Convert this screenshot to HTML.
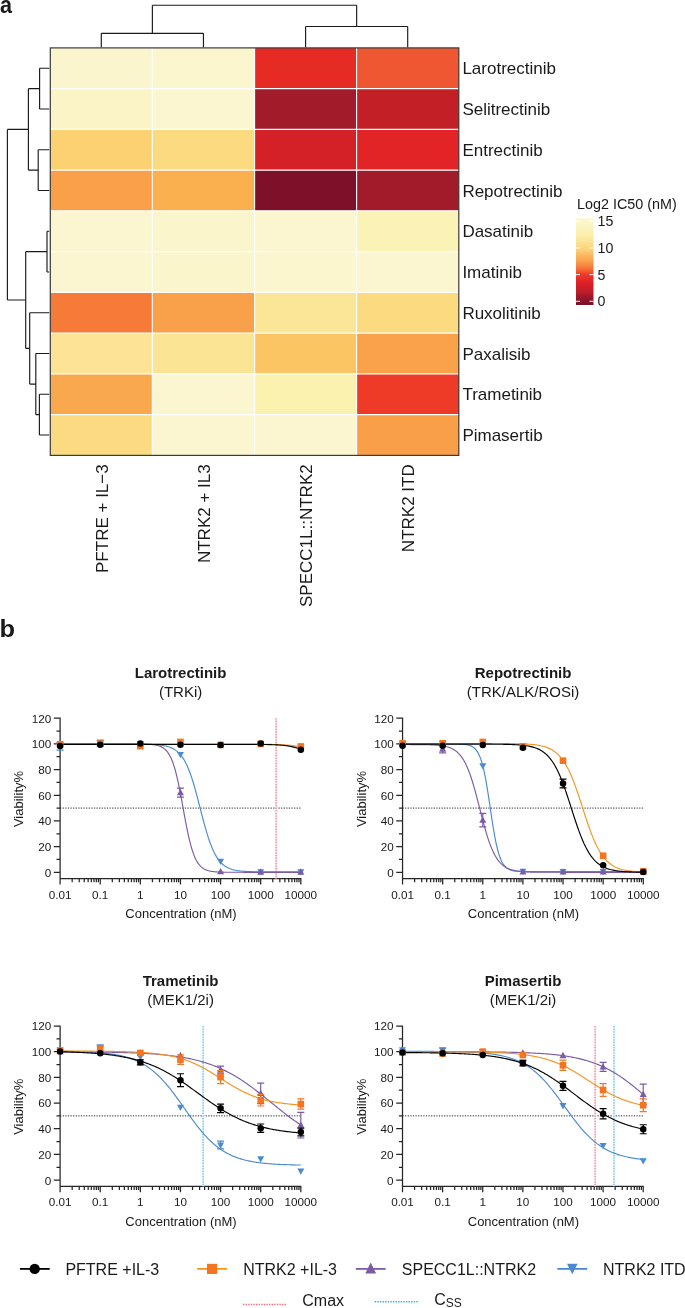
<!DOCTYPE html>
<html><head><meta charset="utf-8"><style>
html,body{margin:0;padding:0;background:#fff;}
body{width:685px;height:1308px;overflow:hidden;}
svg{display:block;font-family:"Liberation Sans", sans-serif;will-change:transform;}
text{fill:#1a1a1a;}
</style></head><body>
<svg width="685" height="1308" viewBox="0 0 685 1308">
<rect x="50.3" y="47.9" width="102" height="40.75" fill="#FBF5CE"/>
<rect x="152.3" y="47.9" width="102.3" height="40.75" fill="#FBF6CD"/>
<rect x="254.6" y="47.9" width="102" height="40.75" fill="#E62A24"/>
<rect x="356.6" y="47.9" width="102.2" height="40.75" fill="#EF5733"/>
<rect x="50.3" y="88.65" width="102" height="40.75" fill="#FAF4C6"/>
<rect x="152.3" y="88.65" width="102.3" height="40.75" fill="#FBF6D0"/>
<rect x="254.6" y="88.65" width="102" height="40.75" fill="#A11B2A"/>
<rect x="356.6" y="88.65" width="102.2" height="40.75" fill="#C21F27"/>
<rect x="50.3" y="129.4" width="102" height="40.75" fill="#FCD172"/>
<rect x="152.3" y="129.4" width="102.3" height="40.75" fill="#FCDA80"/>
<rect x="254.6" y="129.4" width="102" height="40.75" fill="#D42027"/>
<rect x="356.6" y="129.4" width="102.2" height="40.75" fill="#E22426"/>
<rect x="50.3" y="170.15" width="102" height="40.75" fill="#F9A049"/>
<rect x="152.3" y="170.15" width="102.3" height="40.75" fill="#FBB050"/>
<rect x="254.6" y="170.15" width="102" height="40.75" fill="#7E1129"/>
<rect x="356.6" y="170.15" width="102.2" height="40.75" fill="#A11B2A"/>
<rect x="50.3" y="210.9" width="102" height="40.75" fill="#FBF6D0"/>
<rect x="152.3" y="210.9" width="102.3" height="40.75" fill="#FBF5CC"/>
<rect x="254.6" y="210.9" width="102" height="40.75" fill="#FBF6CF"/>
<rect x="356.6" y="210.9" width="102.2" height="40.75" fill="#FBF3B5"/>
<rect x="50.3" y="251.65" width="102" height="40.75" fill="#FBF6D0"/>
<rect x="152.3" y="251.65" width="102.3" height="40.75" fill="#FBF5CC"/>
<rect x="254.6" y="251.65" width="102" height="40.75" fill="#FBF6CE"/>
<rect x="356.6" y="251.65" width="102.2" height="40.75" fill="#FBF6CF"/>
<rect x="50.3" y="292.4" width="102" height="40.75" fill="#F67B39"/>
<rect x="152.3" y="292.4" width="102.3" height="40.75" fill="#F9A04A"/>
<rect x="254.6" y="292.4" width="102" height="40.75" fill="#FBE597"/>
<rect x="356.6" y="292.4" width="102.2" height="40.75" fill="#FCDA80"/>
<rect x="50.3" y="333.15" width="102" height="40.75" fill="#FCE395"/>
<rect x="152.3" y="333.15" width="102.3" height="40.75" fill="#FBE494"/>
<rect x="254.6" y="333.15" width="102" height="40.75" fill="#FCC563"/>
<rect x="356.6" y="333.15" width="102.2" height="40.75" fill="#F9A24A"/>
<rect x="50.3" y="373.9" width="102" height="40.75" fill="#FAA84D"/>
<rect x="152.3" y="373.9" width="102.3" height="40.75" fill="#FBF6D0"/>
<rect x="254.6" y="373.9" width="102" height="40.75" fill="#FCF2AF"/>
<rect x="356.6" y="373.9" width="102.2" height="40.75" fill="#EE3B27"/>
<rect x="50.3" y="414.65" width="102" height="40.75" fill="#FCDA81"/>
<rect x="152.3" y="414.65" width="102.3" height="40.75" fill="#FBF6D0"/>
<rect x="254.6" y="414.65" width="102" height="40.75" fill="#FBF6CF"/>
<rect x="356.6" y="414.65" width="102.2" height="40.75" fill="#F99F48"/>
<line x1="152.3" y1="47.9" x2="152.3" y2="455.4" stroke="#fff" stroke-width="1.1"/>
<line x1="254.6" y1="47.9" x2="254.6" y2="455.4" stroke="#fff" stroke-width="1.1"/>
<line x1="356.6" y1="47.9" x2="356.6" y2="455.4" stroke="#fff" stroke-width="1.1"/>
<line x1="50.3" y1="88.65" x2="458.8" y2="88.65" stroke="#fff" stroke-width="1.1"/>
<line x1="50.3" y1="129.4" x2="458.8" y2="129.4" stroke="#fff" stroke-width="1.1"/>
<line x1="50.3" y1="170.15" x2="458.8" y2="170.15" stroke="#fff" stroke-width="1.1"/>
<line x1="50.3" y1="210.9" x2="458.8" y2="210.9" stroke="#fff" stroke-width="1.1"/>
<line x1="50.3" y1="251.65" x2="458.8" y2="251.65" stroke="#fff" stroke-width="1.1"/>
<line x1="50.3" y1="292.4" x2="458.8" y2="292.4" stroke="#fff" stroke-width="1.1"/>
<line x1="50.3" y1="333.15" x2="458.8" y2="333.15" stroke="#fff" stroke-width="1.1"/>
<line x1="50.3" y1="373.9" x2="458.8" y2="373.9" stroke="#fff" stroke-width="1.1"/>
<line x1="50.3" y1="414.65" x2="458.8" y2="414.65" stroke="#fff" stroke-width="1.1"/>
<rect x="50.3" y="47.9" width="408.5" height="407.5" fill="none" stroke="#3a3a3a" stroke-width="1.2"/>
<path d="M101.3 47.2L101.3 33.3M101.3 33.3L203.45 33.3M203.45 33.3L203.45 47.2M305.6 47.2L305.6 26.5M305.6 26.5L407.7 26.5M407.7 26.5L407.7 47.2M152.38 33.3L152.38 5.2M152.38 5.2L356.65 5.2M356.65 5.2L356.65 26.5M49.3 68.28L39.6 68.28M39.6 68.28L39.6 109.03M39.6 109.03L49.3 109.03M49.3 149.78L38.2 149.78M38.2 149.78L38.2 190.53M38.2 190.53L49.3 190.53M39.6 88.65L28.4 88.65M28.4 88.65L28.4 170.15M28.4 170.15L38.2 170.15M49.3 231.28L47 231.28M47 231.28L47 272.02M47 272.02L49.3 272.02M49.3 394.27L39.4 394.27M39.4 394.27L39.4 435.02M39.4 435.02L49.3 435.02M49.3 353.52L35.8 353.52M35.8 353.52L35.8 414.65M35.8 414.65L39.4 414.65M49.3 312.77L29.7 312.77M29.7 312.77L29.7 384.09M29.7 384.09L35.8 384.09M47 251.65L25.7 251.65M25.7 251.65L25.7 348.43M25.7 348.43L29.7 348.43M28.4 129.4L7.4 129.4M7.4 129.4L7.4 300.04M7.4 300.04L25.7 300.04" fill="none" stroke="#1a1a1a" stroke-width="1.15"/>
<text x="462.4" y="74.38" font-size="17">Larotrectinib</text>
<text x="462.4" y="115.12" font-size="17">Selitrectinib</text>
<text x="462.4" y="155.88" font-size="17">Entrectinib</text>
<text x="462.4" y="196.62" font-size="17">Repotrectinib</text>
<text x="462.4" y="237.38" font-size="17">Dasatinib</text>
<text x="462.4" y="278.12" font-size="17">Imatinib</text>
<text x="462.4" y="318.88" font-size="17">Ruxolitinib</text>
<text x="462.4" y="359.62" font-size="17">Paxalisib</text>
<text x="462.4" y="400.38" font-size="17">Trametinib</text>
<text x="462.4" y="441.12" font-size="17">Pimasertib</text>
<text transform="translate(107.9 464.3) rotate(-90)" text-anchor="end" font-size="17">PFTRE + IL−3</text>
<text transform="translate(210.05 464.3) rotate(-90)" text-anchor="end" font-size="17">NTRK2 + IL3</text>
<text transform="translate(312.2 464.3) rotate(-90)" text-anchor="end" font-size="17">SPECC1L::NTRK2</text>
<text transform="translate(414.3 464.3) rotate(-90)" text-anchor="end" font-size="17">NTRK2 ITD</text>
<text transform="translate(0 12.6) scale(0.9 1)" font-size="24" font-weight="bold">a</text>
<text transform="translate(-0.6 636.8) scale(1.06 1)" font-size="24" font-weight="bold">b</text>
<text x="577.1" y="209.3" font-size="14.35">Log2 IC50 (nM)</text>
<defs><linearGradient id="cbg" x1="0" y1="217.8" x2="0" y2="305" gradientUnits="userSpaceOnUse">
<stop offset="0" stop-color="#FCF9D8"/>
<stop offset="0.04" stop-color="#FBF6CF"/>
<stop offset="0.19" stop-color="#FCF0AE"/>
<stop offset="0.35" stop-color="#FDD57D"/>
<stop offset="0.5" stop-color="#FA9E4A"/>
<stop offset="0.58" stop-color="#F57538"/>
<stop offset="0.65" stop-color="#EE3B2B"/>
<stop offset="0.74" stop-color="#E02027"/>
<stop offset="0.84" stop-color="#C01E2A"/>
<stop offset="0.96" stop-color="#84122A"/>
<stop offset="1" stop-color="#7A1029"/>
</linearGradient></defs>
<rect x="576" y="217.8" width="17.5" height="87.2" fill="url(#cbg)"/>
<line x1="576" y1="221.3" x2="580" y2="221.3" stroke="#fff" stroke-width="1"/>
<line x1="589.5" y1="221.3" x2="593.5" y2="221.3" stroke="#fff" stroke-width="1"/>
<text x="597.6" y="226.3" font-size="14.2">15</text>
<line x1="576" y1="247.97" x2="580" y2="247.97" stroke="#fff" stroke-width="1"/>
<line x1="589.5" y1="247.97" x2="593.5" y2="247.97" stroke="#fff" stroke-width="1"/>
<text x="597.6" y="252.97" font-size="14.2">10</text>
<line x1="576" y1="274.63" x2="580" y2="274.63" stroke="#fff" stroke-width="1"/>
<line x1="589.5" y1="274.63" x2="593.5" y2="274.63" stroke="#fff" stroke-width="1"/>
<text x="597.6" y="279.63" font-size="14.2">5</text>
<line x1="576" y1="301.3" x2="580" y2="301.3" stroke="#fff" stroke-width="1"/>
<line x1="589.5" y1="301.3" x2="593.5" y2="301.3" stroke="#fff" stroke-width="1"/>
<text x="597.6" y="306.3" font-size="14.2">0</text>
<text x="180.6" y="678.4" font-size="15" font-weight="bold" text-anchor="middle">Larotrectinib</text>
<text x="180.6" y="697.1" font-size="15" text-anchor="middle">(TRKi)</text>
<path d="M60.1 717.6L60.1 884.5M60.1 878.5L301.42 878.5M53.8 872.3L60.1 872.3M53.8 846.62L60.1 846.62M53.8 820.93L60.1 820.93M53.8 795.25L60.1 795.25M53.8 769.56L60.1 769.56M53.8 743.88L60.1 743.88M53.8 718.2L60.1 718.2M56.5 859.46L60.1 859.46M56.5 833.77L60.1 833.77M56.5 808.09L60.1 808.09M56.5 782.41L60.1 782.41M56.5 756.72L60.1 756.72M56.5 731.04L60.1 731.04M60.1 878.5L60.1 884.5M72.18 878.5L72.18 882.3M79.24 878.5L79.24 882.3M84.25 878.5L84.25 882.3M88.14 878.5L88.14 882.3M91.32 878.5L91.32 882.3M94.01 878.5L94.01 882.3M96.33 878.5L96.33 882.3M98.38 878.5L98.38 882.3M100.22 878.5L100.22 884.5M112.3 878.5L112.3 882.3M119.36 878.5L119.36 882.3M124.37 878.5L124.37 882.3M128.26 878.5L128.26 882.3M131.44 878.5L131.44 882.3M134.13 878.5L134.13 882.3M136.45 878.5L136.45 882.3M138.5 878.5L138.5 882.3M140.34 878.5L140.34 884.5M152.42 878.5L152.42 882.3M159.48 878.5L159.48 882.3M164.49 878.5L164.49 882.3M168.38 878.5L168.38 882.3M171.56 878.5L171.56 882.3M174.25 878.5L174.25 882.3M176.57 878.5L176.57 882.3M178.62 878.5L178.62 882.3M180.46 878.5L180.46 884.5M192.54 878.5L192.54 882.3M199.6 878.5L199.6 882.3M204.61 878.5L204.61 882.3M208.5 878.5L208.5 882.3M211.68 878.5L211.68 882.3M214.37 878.5L214.37 882.3M216.69 878.5L216.69 882.3M218.74 878.5L218.74 882.3M220.58 878.5L220.58 884.5M232.66 878.5L232.66 882.3M239.72 878.5L239.72 882.3M244.73 878.5L244.73 882.3M248.62 878.5L248.62 882.3M251.8 878.5L251.8 882.3M254.49 878.5L254.49 882.3M256.81 878.5L256.81 882.3M258.86 878.5L258.86 882.3M260.7 878.5L260.7 884.5M272.78 878.5L272.78 882.3M279.84 878.5L279.84 882.3M284.85 878.5L284.85 882.3M288.74 878.5L288.74 882.3M291.92 878.5L291.92 882.3M294.61 878.5L294.61 882.3M296.93 878.5L296.93 882.3M298.98 878.5L298.98 882.3M300.82 878.5L300.82 884.5" fill="none" stroke="#262626" stroke-width="1.25"/>
<text x="51.2" y="876.7" font-size="11.7" text-anchor="end">0</text>
<text x="51.2" y="851.02" font-size="11.7" text-anchor="end">20</text>
<text x="51.2" y="825.33" font-size="11.7" text-anchor="end">40</text>
<text x="51.2" y="799.65" font-size="11.7" text-anchor="end">60</text>
<text x="51.2" y="773.96" font-size="11.7" text-anchor="end">80</text>
<text x="51.2" y="748.28" font-size="11.7" text-anchor="end">100</text>
<text x="51.2" y="722.6" font-size="11.7" text-anchor="end">120</text>
<text x="60.1" y="898.6" font-size="11.7" text-anchor="middle">0.01</text>
<text x="100.22" y="898.6" font-size="11.7" text-anchor="middle">0.1</text>
<text x="140.34" y="898.6" font-size="11.7" text-anchor="middle">1</text>
<text x="180.46" y="898.6" font-size="11.7" text-anchor="middle">10</text>
<text x="220.58" y="898.6" font-size="11.7" text-anchor="middle">100</text>
<text x="260.7" y="898.6" font-size="11.7" text-anchor="middle">1000</text>
<text x="300.82" y="898.6" font-size="11.7" text-anchor="middle">10000</text>
<text x="181" y="918" font-size="13" text-anchor="middle">Concentration (nM)</text>
<text transform="translate(23.1 799) rotate(-90)" font-size="13" text-anchor="middle">Viability%</text>
<line x1="60.1" y1="808.09" x2="300.82" y2="808.09" stroke="#222" stroke-width="1" stroke-dasharray="1.2 1.4"/>
<line x1="276.13" y1="718.2" x2="276.13" y2="878.5" stroke="#FDE4E7" stroke-width="1.8"/>
<line x1="276.13" y1="718.2" x2="276.13" y2="878.5" stroke="#F59AA3" stroke-width="1.7" stroke-dasharray="1.3 1.33"/>
<path d="M60.1 744.14L61.1 744.14L62.11 744.14L63.11 744.14L64.11 744.14L65.11 744.14L66.12 744.14L67.12 744.14L68.12 744.14L69.13 744.14L70.13 744.14L71.13 744.14L72.14 744.14L73.14 744.14L74.14 744.14L75.14 744.14L76.15 744.14L77.15 744.14L78.15 744.14L79.16 744.14L80.16 744.14L81.16 744.14L82.17 744.14L83.17 744.14L84.17 744.14L85.17 744.14L86.18 744.14L87.18 744.14L88.18 744.14L89.19 744.14L90.19 744.14L91.19 744.14L92.2 744.14L93.2 744.14L94.2 744.14L95.2 744.14L96.21 744.14L97.21 744.14L98.21 744.14L99.22 744.14L100.22 744.14L101.22 744.14L102.23 744.14L103.23 744.14L104.23 744.14L105.23 744.14L106.24 744.14L107.24 744.14L108.24 744.14L109.25 744.14L110.25 744.14L111.25 744.14L112.26 744.14L113.26 744.14L114.26 744.14L115.27 744.14L116.27 744.14L117.27 744.14L118.27 744.14L119.28 744.14L120.28 744.14L121.28 744.15L122.29 744.15L123.29 744.15L124.29 744.15L125.29 744.15L126.3 744.15L127.3 744.15L128.3 744.16L129.31 744.16L130.31 744.16L131.31 744.17L132.32 744.17L133.32 744.17L134.32 744.18L135.32 744.18L136.33 744.19L137.33 744.2L138.33 744.2L139.34 744.21L140.34 744.22L141.34 744.23L142.35 744.25L143.35 744.26L144.35 744.28L145.35 744.29L146.36 744.32L147.36 744.34L148.36 744.36L149.37 744.39L150.37 744.43L151.37 744.47L152.38 744.51L153.38 744.56L154.38 744.61L155.38 744.67L156.39 744.74L157.39 744.82L158.39 744.91L159.4 745.01L160.4 745.12L161.4 745.25L162.41 745.4L163.41 745.56L164.41 745.74L165.41 745.95L166.42 746.18L167.42 746.44L168.42 746.74L169.43 747.07L170.43 747.44L171.43 747.86L172.44 748.33L173.44 748.85L174.44 749.44L175.44 750.1L176.45 750.84L177.45 751.66L178.45 752.58L179.46 753.6L180.46 754.73L181.46 755.99L182.47 757.37L183.47 758.9L184.47 760.58L185.47 762.42L186.48 764.42L187.48 766.6L188.48 768.96L189.49 771.51L190.49 774.24L191.49 777.15L192.5 780.24L193.5 783.5L194.5 786.91L195.5 790.47L196.51 794.15L197.51 797.93L198.51 801.78L199.52 805.68L200.52 809.59L201.52 813.5L202.53 817.36L203.53 821.15L204.53 824.85L205.53 828.44L206.54 831.88L207.54 835.17L208.54 838.3L209.55 841.25L210.55 844.01L211.55 846.59L212.56 848.99L213.56 851.21L214.56 853.25L215.56 855.12L216.57 856.83L217.57 858.38L218.57 859.8L219.58 861.08L220.58 862.23L221.58 863.27L222.59 864.21L223.59 865.05L224.59 865.81L225.59 866.48L226.6 867.09L227.6 867.62L228.6 868.1L229.61 868.53L230.61 868.91L231.61 869.25L232.62 869.55L233.62 869.82L234.62 870.06L235.62 870.27L236.63 870.46L237.63 870.63L238.63 870.77L239.64 870.9L240.64 871.02L241.64 871.12L242.65 871.21L243.65 871.29L244.65 871.36L245.65 871.43L246.66 871.48L247.66 871.53L248.66 871.58L249.67 871.62L250.67 871.65L251.67 871.68L252.68 871.71L253.68 871.73L254.68 871.75L255.68 871.77L256.69 871.79L257.69 871.8L258.69 871.82L259.7 871.83L260.7 871.84L261.7 871.85L262.71 871.85L263.71 871.86L264.71 871.87L265.71 871.87L266.72 871.88L267.72 871.88L268.72 871.89L269.73 871.89L270.73 871.89L271.73 871.89L272.74 871.9L273.74 871.9L274.74 871.9L275.75 871.9L276.75 871.9L277.75 871.91L278.75 871.91L279.76 871.91L280.76 871.91L281.76 871.91L282.77 871.91L283.77 871.91L284.77 871.91L285.77 871.91L286.78 871.91L287.78 871.91L288.78 871.91L289.79 871.91L290.79 871.91L291.79 871.91L292.8 871.91L293.8 871.91L294.8 871.91L295.81 871.91L296.81 871.91L297.81 871.91L298.81 871.91L299.82 871.91L300.82 871.91" fill="none" stroke="#4A8BD0" stroke-width="1.15"/>
<path d="M60.1 743.88L61.1 743.88L62.11 743.88L63.11 743.88L64.11 743.88L65.11 743.88L66.12 743.88L67.12 743.88L68.12 743.88L69.13 743.88L70.13 743.88L71.13 743.88L72.14 743.88L73.14 743.88L74.14 743.88L75.14 743.88L76.15 743.88L77.15 743.88L78.15 743.88L79.16 743.88L80.16 743.88L81.16 743.88L82.17 743.88L83.17 743.88L84.17 743.88L85.17 743.88L86.18 743.88L87.18 743.88L88.18 743.88L89.19 743.88L90.19 743.88L91.19 743.88L92.2 743.88L93.2 743.88L94.2 743.88L95.2 743.88L96.21 743.88L97.21 743.88L98.21 743.88L99.22 743.88L100.22 743.88L101.22 743.88L102.23 743.88L103.23 743.88L104.23 743.88L105.23 743.88L106.24 743.88L107.24 743.88L108.24 743.88L109.25 743.88L110.25 743.88L111.25 743.88L112.26 743.88L113.26 743.88L114.26 743.88L115.27 743.88L116.27 743.88L117.27 743.88L118.27 743.88L119.28 743.88L120.28 743.88L121.28 743.88L122.29 743.88L123.29 743.88L124.29 743.89L125.29 743.89L126.3 743.89L127.3 743.89L128.3 743.89L129.31 743.89L130.31 743.89L131.31 743.9L132.32 743.9L133.32 743.9L134.32 743.91L135.32 743.91L136.33 743.92L137.33 743.93L138.33 743.94L139.34 743.95L140.34 743.96L141.34 743.98L142.35 743.99L143.35 744.02L144.35 744.04L145.35 744.07L146.36 744.11L147.36 744.15L148.36 744.2L149.37 744.26L150.37 744.34L151.37 744.42L152.38 744.52L153.38 744.64L154.38 744.79L155.38 744.96L156.39 745.16L157.39 745.4L158.39 745.68L159.4 746.01L160.4 746.4L161.4 746.87L162.41 747.42L163.41 748.06L164.41 748.82L165.41 749.71L166.42 750.75L167.42 751.96L168.42 753.37L169.43 755L170.43 756.89L171.43 759.05L172.44 761.52L173.44 764.31L174.44 767.46L175.44 770.97L176.45 774.84L177.45 779.08L178.45 783.66L179.46 788.55L180.46 793.7L181.46 799.06L182.47 804.55L183.47 810.09L184.47 815.6L185.47 821L186.48 826.21L187.48 831.18L188.48 835.85L189.49 840.19L190.49 844.17L191.49 847.78L192.5 851.02L193.5 853.91L194.5 856.47L195.5 858.71L196.51 860.67L197.51 862.38L198.51 863.85L199.52 865.11L200.52 866.2L201.52 867.13L202.53 867.92L203.53 868.59L204.53 869.17L205.53 869.65L206.54 870.07L207.54 870.42L208.54 870.71L209.55 870.96L210.55 871.17L211.55 871.35L212.56 871.5L213.56 871.62L214.56 871.73L215.56 871.82L216.57 871.9L217.57 871.96L218.57 872.01L219.58 872.06L220.58 872.1L221.58 872.13L222.59 872.16L223.59 872.18L224.59 872.2L225.59 872.21L226.6 872.23L227.6 872.24L228.6 872.25L229.61 872.26L230.61 872.26L231.61 872.27L232.62 872.27L233.62 872.28L234.62 872.28L235.62 872.28L236.63 872.29L237.63 872.29L238.63 872.29L239.64 872.29L240.64 872.29L241.64 872.29L242.65 872.3L243.65 872.3L244.65 872.3L245.65 872.3L246.66 872.3L247.66 872.3L248.66 872.3L249.67 872.3L250.67 872.3L251.67 872.3L252.68 872.3L253.68 872.3L254.68 872.3L255.68 872.3L256.69 872.3L257.69 872.3L258.69 872.3L259.7 872.3L260.7 872.3L261.7 872.3L262.71 872.3L263.71 872.3L264.71 872.3L265.71 872.3L266.72 872.3L267.72 872.3L268.72 872.3L269.73 872.3L270.73 872.3L271.73 872.3L272.74 872.3L273.74 872.3L274.74 872.3L275.75 872.3L276.75 872.3L277.75 872.3L278.75 872.3L279.76 872.3L280.76 872.3L281.76 872.3L282.77 872.3L283.77 872.3L284.77 872.3L285.77 872.3L286.78 872.3L287.78 872.3L288.78 872.3L289.79 872.3L290.79 872.3L291.79 872.3L292.8 872.3L293.8 872.3L294.8 872.3L295.81 872.3L296.81 872.3L297.81 872.3L298.81 872.3L299.82 872.3L300.82 872.3" fill="none" stroke="#7B5BA6" stroke-width="1.15"/>
<path d="M60.1 744.27L61.1 744.27L62.11 744.27L63.11 744.27L64.11 744.27L65.11 744.27L66.12 744.27L67.12 744.27L68.12 744.27L69.13 744.27L70.13 744.27L71.13 744.27L72.14 744.27L73.14 744.27L74.14 744.27L75.14 744.27L76.15 744.27L77.15 744.27L78.15 744.27L79.16 744.27L80.16 744.27L81.16 744.27L82.17 744.27L83.17 744.27L84.17 744.27L85.17 744.27L86.18 744.27L87.18 744.27L88.18 744.27L89.19 744.27L90.19 744.27L91.19 744.27L92.2 744.27L93.2 744.27L94.2 744.27L95.2 744.27L96.21 744.27L97.21 744.27L98.21 744.27L99.22 744.27L100.22 744.27L101.22 744.27L102.23 744.27L103.23 744.27L104.23 744.27L105.23 744.27L106.24 744.27L107.24 744.27L108.24 744.27L109.25 744.27L110.25 744.27L111.25 744.27L112.26 744.27L113.26 744.27L114.26 744.27L115.27 744.27L116.27 744.27L117.27 744.27L118.27 744.27L119.28 744.27L120.28 744.27L121.28 744.27L122.29 744.27L123.29 744.27L124.29 744.27L125.29 744.27L126.3 744.27L127.3 744.27L128.3 744.27L129.31 744.27L130.31 744.27L131.31 744.27L132.32 744.27L133.32 744.27L134.32 744.27L135.32 744.27L136.33 744.27L137.33 744.27L138.33 744.27L139.34 744.27L140.34 744.27L141.34 744.27L142.35 744.27L143.35 744.27L144.35 744.27L145.35 744.27L146.36 744.27L147.36 744.27L148.36 744.27L149.37 744.27L150.37 744.27L151.37 744.27L152.38 744.27L153.38 744.27L154.38 744.27L155.38 744.27L156.39 744.27L157.39 744.27L158.39 744.27L159.4 744.27L160.4 744.27L161.4 744.27L162.41 744.27L163.41 744.27L164.41 744.27L165.41 744.27L166.42 744.27L167.42 744.27L168.42 744.27L169.43 744.27L170.43 744.27L171.43 744.27L172.44 744.27L173.44 744.27L174.44 744.27L175.44 744.27L176.45 744.27L177.45 744.27L178.45 744.27L179.46 744.27L180.46 744.27L181.46 744.27L182.47 744.27L183.47 744.27L184.47 744.27L185.47 744.27L186.48 744.27L187.48 744.27L188.48 744.27L189.49 744.27L190.49 744.27L191.49 744.27L192.5 744.27L193.5 744.27L194.5 744.27L195.5 744.27L196.51 744.27L197.51 744.27L198.51 744.27L199.52 744.27L200.52 744.27L201.52 744.27L202.53 744.27L203.53 744.27L204.53 744.27L205.53 744.27L206.54 744.27L207.54 744.27L208.54 744.27L209.55 744.27L210.55 744.27L211.55 744.27L212.56 744.27L213.56 744.27L214.56 744.27L215.56 744.27L216.57 744.27L217.57 744.27L218.57 744.27L219.58 744.27L220.58 744.27L221.58 744.27L222.59 744.27L223.59 744.27L224.59 744.27L225.59 744.27L226.6 744.27L227.6 744.27L228.6 744.27L229.61 744.27L230.61 744.27L231.61 744.27L232.62 744.27L233.62 744.27L234.62 744.27L235.62 744.27L236.63 744.27L237.63 744.27L238.63 744.27L239.64 744.27L240.64 744.27L241.64 744.27L242.65 744.27L243.65 744.27L244.65 744.27L245.65 744.27L246.66 744.27L247.66 744.28L248.66 744.28L249.67 744.28L250.67 744.28L251.67 744.28L252.68 744.28L253.68 744.29L254.68 744.29L255.68 744.29L256.69 744.3L257.69 744.3L258.69 744.3L259.7 744.31L260.7 744.31L261.7 744.32L262.71 744.32L263.71 744.33L264.71 744.34L265.71 744.35L266.72 744.36L267.72 744.37L268.72 744.38L269.73 744.4L270.73 744.41L271.73 744.43L272.74 744.45L273.74 744.47L274.74 744.49L275.75 744.52L276.75 744.55L277.75 744.58L278.75 744.61L279.76 744.65L280.76 744.7L281.76 744.74L282.77 744.8L283.77 744.85L284.77 744.92L285.77 744.98L286.78 745.06L287.78 745.13L288.78 745.22L289.79 745.31L290.79 745.41L291.79 745.51L292.8 745.62L293.8 745.73L294.8 745.85L295.81 745.98L296.81 746.1L297.81 746.23L298.81 746.37L299.82 746.5L300.82 746.64" fill="none" stroke="#F7941D" stroke-width="1.15"/>
<path d="M60.1 744.39L61.1 744.39L62.11 744.39L63.11 744.39L64.11 744.39L65.11 744.39L66.12 744.39L67.12 744.39L68.12 744.39L69.13 744.39L70.13 744.39L71.13 744.39L72.14 744.39L73.14 744.39L74.14 744.39L75.14 744.39L76.15 744.39L77.15 744.39L78.15 744.39L79.16 744.39L80.16 744.39L81.16 744.39L82.17 744.39L83.17 744.39L84.17 744.39L85.17 744.39L86.18 744.39L87.18 744.39L88.18 744.39L89.19 744.39L90.19 744.39L91.19 744.39L92.2 744.39L93.2 744.39L94.2 744.39L95.2 744.39L96.21 744.39L97.21 744.39L98.21 744.39L99.22 744.39L100.22 744.39L101.22 744.39L102.23 744.39L103.23 744.39L104.23 744.39L105.23 744.39L106.24 744.39L107.24 744.39L108.24 744.39L109.25 744.39L110.25 744.39L111.25 744.39L112.26 744.39L113.26 744.39L114.26 744.39L115.27 744.39L116.27 744.39L117.27 744.39L118.27 744.39L119.28 744.39L120.28 744.39L121.28 744.39L122.29 744.39L123.29 744.39L124.29 744.39L125.29 744.39L126.3 744.39L127.3 744.39L128.3 744.39L129.31 744.39L130.31 744.39L131.31 744.39L132.32 744.39L133.32 744.39L134.32 744.39L135.32 744.39L136.33 744.39L137.33 744.39L138.33 744.39L139.34 744.39L140.34 744.39L141.34 744.39L142.35 744.39L143.35 744.39L144.35 744.39L145.35 744.39L146.36 744.39L147.36 744.39L148.36 744.39L149.37 744.39L150.37 744.39L151.37 744.39L152.38 744.39L153.38 744.39L154.38 744.39L155.38 744.39L156.39 744.39L157.39 744.39L158.39 744.39L159.4 744.39L160.4 744.39L161.4 744.39L162.41 744.39L163.41 744.39L164.41 744.39L165.41 744.39L166.42 744.39L167.42 744.39L168.42 744.39L169.43 744.39L170.43 744.39L171.43 744.39L172.44 744.39L173.44 744.39L174.44 744.39L175.44 744.39L176.45 744.39L177.45 744.39L178.45 744.39L179.46 744.39L180.46 744.39L181.46 744.39L182.47 744.39L183.47 744.39L184.47 744.39L185.47 744.39L186.48 744.39L187.48 744.39L188.48 744.39L189.49 744.39L190.49 744.39L191.49 744.39L192.5 744.39L193.5 744.39L194.5 744.39L195.5 744.39L196.51 744.39L197.51 744.39L198.51 744.39L199.52 744.39L200.52 744.39L201.52 744.39L202.53 744.39L203.53 744.39L204.53 744.39L205.53 744.39L206.54 744.39L207.54 744.39L208.54 744.39L209.55 744.39L210.55 744.39L211.55 744.39L212.56 744.39L213.56 744.39L214.56 744.39L215.56 744.39L216.57 744.39L217.57 744.39L218.57 744.39L219.58 744.39L220.58 744.39L221.58 744.39L222.59 744.39L223.59 744.39L224.59 744.39L225.59 744.4L226.6 744.4L227.6 744.4L228.6 744.4L229.61 744.4L230.61 744.4L231.61 744.4L232.62 744.4L233.62 744.4L234.62 744.4L235.62 744.4L236.63 744.4L237.63 744.4L238.63 744.4L239.64 744.4L240.64 744.4L241.64 744.4L242.65 744.4L243.65 744.4L244.65 744.41L245.65 744.41L246.66 744.41L247.66 744.41L248.66 744.41L249.67 744.42L250.67 744.42L251.67 744.42L252.68 744.42L253.68 744.43L254.68 744.43L255.68 744.44L256.69 744.44L257.69 744.45L258.69 744.46L259.7 744.46L260.7 744.47L261.7 744.48L262.71 744.49L263.71 744.5L264.71 744.52L265.71 744.53L266.72 744.55L267.72 744.57L268.72 744.59L269.73 744.61L270.73 744.63L271.73 744.66L272.74 744.7L273.74 744.73L274.74 744.77L275.75 744.82L276.75 744.87L277.75 744.92L278.75 744.98L279.76 745.05L280.76 745.13L281.76 745.21L282.77 745.3L283.77 745.4L284.77 745.51L285.77 745.64L286.78 745.77L287.78 745.92L288.78 746.08L289.79 746.26L290.79 746.44L291.79 746.65L292.8 746.87L293.8 747.1L294.8 747.36L295.81 747.62L296.81 747.9L297.81 748.2L298.81 748.51L299.82 748.83L300.82 749.16" fill="none" stroke="#000000" stroke-width="1.15"/>
<path d="M60.1 742.34L60.1 750.04M56.6 742.34L63.6 742.34M56.6 750.04L63.6 750.04M100.22 740.03L100.22 745.16M96.72 740.03L103.72 740.03M96.72 745.16L103.72 745.16" fill="none" stroke="#4A8BD0" stroke-width="1.2"/>
<path d="M60.1 749.87L63.6 743.57L56.6 743.57Z" fill="#4A8BD0"/>
<path d="M100.22 746.27L103.72 739.97L96.72 739.97Z" fill="#4A8BD0"/>
<path d="M140.34 747.55L143.84 741.25L136.84 741.25Z" fill="#4A8BD0"/>
<path d="M180.46 758.21L183.96 751.91L176.96 751.91Z" fill="#4A8BD0"/>
<path d="M220.58 864.93L224.08 858.63L217.08 858.63Z" fill="#4A8BD0"/>
<path d="M260.7 875.59L264.2 869.29L257.2 869.29Z" fill="#4A8BD0"/>
<path d="M300.82 875.59L304.32 869.29L297.32 869.29Z" fill="#4A8BD0"/>
<path d="M180.46 788.18L180.46 797.17M176.96 788.18L183.96 788.18M176.96 797.17L183.96 797.17" fill="none" stroke="#7B5BA6" stroke-width="1.2"/>
<path d="M60.1 740.21L63.6 746.5L56.6 746.5Z" fill="#7B5BA6"/>
<path d="M100.22 740.21L103.72 746.5L96.72 746.5Z" fill="#7B5BA6"/>
<path d="M140.34 740.21L143.84 746.5L136.84 746.5Z" fill="#7B5BA6"/>
<path d="M180.46 789L183.96 795.3L176.96 795.3Z" fill="#7B5BA6"/>
<path d="M220.58 867.98L224.08 874.28L217.08 874.28Z" fill="#7B5BA6"/>
<path d="M260.7 868.37L264.2 874.67L257.2 874.67Z" fill="#7B5BA6"/>
<path d="M300.82 868.37L304.32 874.67L297.32 874.67Z" fill="#7B5BA6"/>
<rect x="56.8" y="740.97" width="6.6" height="6.6" fill="#F37421"/>
<rect x="96.92" y="740.19" width="6.6" height="6.6" fill="#F37421"/>
<rect x="137.04" y="742.89" width="6.6" height="6.6" fill="#F37421"/>
<rect x="177.16" y="738.65" width="6.6" height="6.6" fill="#F37421"/>
<rect x="217.28" y="741.61" width="6.6" height="6.6" fill="#F37421"/>
<rect x="257.4" y="740.58" width="6.6" height="6.6" fill="#F37421"/>
<rect x="297.52" y="743.15" width="6.6" height="6.6" fill="#F37421"/>
<circle cx="60.1" cy="745.93" r="3.25" fill="#000000"/>
<circle cx="100.22" cy="744.65" r="3.25" fill="#000000"/>
<circle cx="140.34" cy="743.62" r="3.25" fill="#000000"/>
<circle cx="180.46" cy="744.65" r="3.25" fill="#000000"/>
<circle cx="220.58" cy="744.91" r="3.25" fill="#000000"/>
<circle cx="260.7" cy="743.62" r="3.25" fill="#000000"/>
<circle cx="300.82" cy="749.66" r="3.25" fill="#000000"/>
<text x="523.05" y="678.4" font-size="15" font-weight="bold" text-anchor="middle">Repotrectinib</text>
<text x="523.05" y="697.1" font-size="15" text-anchor="middle">(TRK/ALK/ROSi)</text>
<path d="M402.55 717.6L402.55 884.5M402.55 878.5L643.87 878.5M396.25 872.3L402.55 872.3M396.25 846.62L402.55 846.62M396.25 820.93L402.55 820.93M396.25 795.25L402.55 795.25M396.25 769.56L402.55 769.56M396.25 743.88L402.55 743.88M396.25 718.2L402.55 718.2M398.95 859.46L402.55 859.46M398.95 833.77L402.55 833.77M398.95 808.09L402.55 808.09M398.95 782.41L402.55 782.41M398.95 756.72L402.55 756.72M398.95 731.04L402.55 731.04M402.55 878.5L402.55 884.5M414.63 878.5L414.63 882.3M421.69 878.5L421.69 882.3M426.7 878.5L426.7 882.3M430.59 878.5L430.59 882.3M433.77 878.5L433.77 882.3M436.46 878.5L436.46 882.3M438.78 878.5L438.78 882.3M440.83 878.5L440.83 882.3M442.67 878.5L442.67 884.5M454.75 878.5L454.75 882.3M461.81 878.5L461.81 882.3M466.82 878.5L466.82 882.3M470.71 878.5L470.71 882.3M473.89 878.5L473.89 882.3M476.58 878.5L476.58 882.3M478.9 878.5L478.9 882.3M480.95 878.5L480.95 882.3M482.79 878.5L482.79 884.5M494.87 878.5L494.87 882.3M501.93 878.5L501.93 882.3M506.94 878.5L506.94 882.3M510.83 878.5L510.83 882.3M514.01 878.5L514.01 882.3M516.7 878.5L516.7 882.3M519.02 878.5L519.02 882.3M521.07 878.5L521.07 882.3M522.91 878.5L522.91 884.5M534.99 878.5L534.99 882.3M542.05 878.5L542.05 882.3M547.06 878.5L547.06 882.3M550.95 878.5L550.95 882.3M554.13 878.5L554.13 882.3M556.82 878.5L556.82 882.3M559.14 878.5L559.14 882.3M561.19 878.5L561.19 882.3M563.03 878.5L563.03 884.5M575.11 878.5L575.11 882.3M582.17 878.5L582.17 882.3M587.18 878.5L587.18 882.3M591.07 878.5L591.07 882.3M594.25 878.5L594.25 882.3M596.94 878.5L596.94 882.3M599.26 878.5L599.26 882.3M601.31 878.5L601.31 882.3M603.15 878.5L603.15 884.5M615.23 878.5L615.23 882.3M622.29 878.5L622.29 882.3M627.3 878.5L627.3 882.3M631.19 878.5L631.19 882.3M634.37 878.5L634.37 882.3M637.06 878.5L637.06 882.3M639.38 878.5L639.38 882.3M641.43 878.5L641.43 882.3M643.27 878.5L643.27 884.5" fill="none" stroke="#262626" stroke-width="1.25"/>
<text x="393.65" y="876.7" font-size="11.7" text-anchor="end">0</text>
<text x="393.65" y="851.02" font-size="11.7" text-anchor="end">20</text>
<text x="393.65" y="825.33" font-size="11.7" text-anchor="end">40</text>
<text x="393.65" y="799.65" font-size="11.7" text-anchor="end">60</text>
<text x="393.65" y="773.96" font-size="11.7" text-anchor="end">80</text>
<text x="393.65" y="748.28" font-size="11.7" text-anchor="end">100</text>
<text x="393.65" y="722.6" font-size="11.7" text-anchor="end">120</text>
<text x="402.55" y="898.6" font-size="11.7" text-anchor="middle">0.01</text>
<text x="442.67" y="898.6" font-size="11.7" text-anchor="middle">0.1</text>
<text x="482.79" y="898.6" font-size="11.7" text-anchor="middle">1</text>
<text x="522.91" y="898.6" font-size="11.7" text-anchor="middle">10</text>
<text x="563.03" y="898.6" font-size="11.7" text-anchor="middle">100</text>
<text x="603.15" y="898.6" font-size="11.7" text-anchor="middle">1000</text>
<text x="643.27" y="898.6" font-size="11.7" text-anchor="middle">10000</text>
<text x="523.45" y="918" font-size="13" text-anchor="middle">Concentration (nM)</text>
<text transform="translate(365.55 799) rotate(-90)" font-size="13" text-anchor="middle">Viability%</text>
<line x1="402.55" y1="808.09" x2="643.27" y2="808.09" stroke="#222" stroke-width="1" stroke-dasharray="1.2 1.4"/>
<path d="M402.55 743.88L403.55 743.88L404.56 743.88L405.56 743.88L406.56 743.88L407.56 743.88L408.57 743.88L409.57 743.88L410.57 743.88L411.58 743.88L412.58 743.88L413.58 743.88L414.59 743.88L415.59 743.88L416.59 743.88L417.6 743.88L418.6 743.88L419.6 743.88L420.6 743.88L421.61 743.88L422.61 743.88L423.61 743.88L424.62 743.88L425.62 743.88L426.62 743.88L427.62 743.88L428.63 743.88L429.63 743.88L430.63 743.88L431.64 743.88L432.64 743.88L433.64 743.88L434.65 743.88L435.65 743.88L436.65 743.88L437.66 743.88L438.66 743.88L439.66 743.88L440.66 743.88L441.67 743.88L442.67 743.89L443.67 743.89L444.68 743.89L445.68 743.89L446.68 743.89L447.69 743.9L448.69 743.9L449.69 743.9L450.69 743.91L451.7 743.92L452.7 743.92L453.7 743.93L454.71 743.95L455.71 743.96L456.71 743.98L457.72 744.01L458.72 744.04L459.72 744.08L460.72 744.12L461.73 744.18L462.73 744.25L463.73 744.34L464.74 744.45L465.74 744.58L466.74 744.75L467.75 744.95L468.75 745.21L469.75 745.52L470.75 745.9L471.76 746.37L472.76 746.94L473.76 747.65L474.77 748.51L475.77 749.56L476.77 750.84L477.77 752.38L478.78 754.24L479.78 756.45L480.78 759.08L481.79 762.18L482.79 765.77L483.79 769.91L484.8 774.61L485.8 779.85L486.8 785.6L487.81 791.79L488.81 798.31L489.81 805.05L490.81 811.85L491.82 818.55L492.82 825.02L493.82 831.13L494.83 836.78L495.83 841.92L496.83 846.5L497.84 850.53L498.84 854.02L499.84 857.02L500.84 859.56L501.85 861.7L502.85 863.49L503.85 864.97L504.86 866.2L505.86 867.21L506.86 868.04L507.87 868.72L508.87 869.27L509.87 869.72L510.87 870.09L511.88 870.39L512.88 870.63L513.88 870.82L514.89 870.98L515.89 871.11L516.89 871.22L517.89 871.3L518.9 871.37L519.9 871.42L520.9 871.47L521.91 871.51L522.91 871.53L523.91 871.56L524.92 871.58L525.92 871.59L526.92 871.61L527.92 871.62L528.93 871.62L529.93 871.63L530.93 871.64L531.94 871.64L532.94 871.64L533.94 871.65L534.95 871.65L535.95 871.65L536.95 871.65L537.96 871.65L538.96 871.65L539.96 871.65L540.96 871.66L541.97 871.66L542.97 871.66L543.97 871.66L544.98 871.66L545.98 871.66L546.98 871.66L547.99 871.66L548.99 871.66L549.99 871.66L550.99 871.66L552 871.66L553 871.66L554 871.66L555.01 871.66L556.01 871.66L557.01 871.66L558.01 871.66L559.02 871.66L560.02 871.66L561.02 871.66L562.03 871.66L563.03 871.66L564.03 871.66L565.04 871.66L566.04 871.66L567.04 871.66L568.04 871.66L569.05 871.66L570.05 871.66L571.05 871.66L572.06 871.66L573.06 871.66L574.06 871.66L575.07 871.66L576.07 871.66L577.07 871.66L578.08 871.66L579.08 871.66L580.08 871.66L581.08 871.66L582.09 871.66L583.09 871.66L584.09 871.66L585.1 871.66L586.1 871.66L587.1 871.66L588.11 871.66L589.11 871.66L590.11 871.66L591.11 871.66L592.12 871.66L593.12 871.66L594.12 871.66L595.13 871.66L596.13 871.66L597.13 871.66L598.13 871.66L599.14 871.66L600.14 871.66L601.14 871.66L602.15 871.66L603.15 871.66L604.15 871.66L605.16 871.66L606.16 871.66L607.16 871.66L608.16 871.66L609.17 871.66L610.17 871.66L611.17 871.66L612.18 871.66L613.18 871.66L614.18 871.66L615.19 871.66L616.19 871.66L617.19 871.66L618.19 871.66L619.2 871.66L620.2 871.66L621.2 871.66L622.21 871.66L623.21 871.66L624.21 871.66L625.22 871.66L626.22 871.66L627.22 871.66L628.23 871.66L629.23 871.66L630.23 871.66L631.23 871.66L632.24 871.66L633.24 871.66L634.24 871.66L635.25 871.66L636.25 871.66L637.25 871.66L638.25 871.66L639.26 871.66L640.26 871.66L641.26 871.66L642.27 871.66L643.27 871.66" fill="none" stroke="#4A8BD0" stroke-width="1.15"/>
<path d="M402.55 744.53L403.55 744.53L404.56 744.53L405.56 744.54L406.56 744.54L407.56 744.54L408.57 744.54L409.57 744.55L410.57 744.55L411.58 744.55L412.58 744.56L413.58 744.56L414.59 744.57L415.59 744.57L416.59 744.58L417.6 744.58L418.6 744.59L419.6 744.6L420.6 744.61L421.61 744.62L422.61 744.64L423.61 744.65L424.62 744.67L425.62 744.69L426.62 744.71L427.62 744.73L428.63 744.76L429.63 744.79L430.63 744.83L431.64 744.87L432.64 744.92L433.64 744.97L434.65 745.03L435.65 745.09L436.65 745.16L437.66 745.25L438.66 745.34L439.66 745.45L440.66 745.57L441.67 745.71L442.67 745.86L443.67 746.03L444.68 746.23L445.68 746.45L446.68 746.7L447.69 746.98L448.69 747.29L449.69 747.65L450.69 748.05L451.7 748.49L452.7 749L453.7 749.56L454.71 750.19L455.71 750.9L456.71 751.69L457.72 752.57L458.72 753.55L459.72 754.64L460.72 755.84L461.73 757.18L462.73 758.66L463.73 760.28L464.74 762.06L465.74 764.01L466.74 766.14L467.75 768.44L468.75 770.93L469.75 773.6L470.75 776.46L471.76 779.5L472.76 782.72L473.76 786.1L474.77 789.62L475.77 793.28L476.77 797.04L477.77 800.89L478.78 804.79L479.78 808.73L480.78 812.65L481.79 816.55L482.79 820.39L483.79 824.14L484.8 827.77L485.8 831.28L486.8 834.63L487.81 837.82L488.81 840.83L489.81 843.66L490.81 846.3L491.82 848.76L492.82 851.04L493.82 853.13L494.83 855.05L495.83 856.81L496.83 858.41L497.84 859.86L498.84 861.18L499.84 862.37L500.84 863.44L501.85 864.4L502.85 865.27L503.85 866.04L504.86 866.74L505.86 867.36L506.86 867.91L507.87 868.4L508.87 868.84L509.87 869.23L510.87 869.58L511.88 869.89L512.88 870.17L513.88 870.41L514.89 870.63L515.89 870.82L516.89 870.99L517.89 871.14L518.9 871.27L519.9 871.39L520.9 871.49L521.91 871.59L522.91 871.67L523.91 871.74L524.92 871.81L525.92 871.86L526.92 871.91L527.92 871.96L528.93 872L529.93 872.03L530.93 872.06L531.94 872.09L532.94 872.12L533.94 872.14L534.95 872.16L535.95 872.17L536.95 872.19L537.96 872.2L538.96 872.21L539.96 872.22L540.96 872.23L541.97 872.24L542.97 872.25L543.97 872.25L544.98 872.26L545.98 872.26L546.98 872.27L547.99 872.27L548.99 872.27L549.99 872.28L550.99 872.28L552 872.28L553 872.28L554 872.29L555.01 872.29L556.01 872.29L557.01 872.29L558.01 872.29L559.02 872.29L560.02 872.29L561.02 872.29L562.03 872.29L563.03 872.3L564.03 872.3L565.04 872.3L566.04 872.3L567.04 872.3L568.04 872.3L569.05 872.3L570.05 872.3L571.05 872.3L572.06 872.3L573.06 872.3L574.06 872.3L575.07 872.3L576.07 872.3L577.07 872.3L578.08 872.3L579.08 872.3L580.08 872.3L581.08 872.3L582.09 872.3L583.09 872.3L584.09 872.3L585.1 872.3L586.1 872.3L587.1 872.3L588.11 872.3L589.11 872.3L590.11 872.3L591.11 872.3L592.12 872.3L593.12 872.3L594.12 872.3L595.13 872.3L596.13 872.3L597.13 872.3L598.13 872.3L599.14 872.3L600.14 872.3L601.14 872.3L602.15 872.3L603.15 872.3L604.15 872.3L605.16 872.3L606.16 872.3L607.16 872.3L608.16 872.3L609.17 872.3L610.17 872.3L611.17 872.3L612.18 872.3L613.18 872.3L614.18 872.3L615.19 872.3L616.19 872.3L617.19 872.3L618.19 872.3L619.2 872.3L620.2 872.3L621.2 872.3L622.21 872.3L623.21 872.3L624.21 872.3L625.22 872.3L626.22 872.3L627.22 872.3L628.23 872.3L629.23 872.3L630.23 872.3L631.23 872.3L632.24 872.3L633.24 872.3L634.24 872.3L635.25 872.3L636.25 872.3L637.25 872.3L638.25 872.3L639.26 872.3L640.26 872.3L641.26 872.3L642.27 872.3L643.27 872.3" fill="none" stroke="#7B5BA6" stroke-width="1.15"/>
<path d="M402.55 743.49L403.55 743.49L404.56 743.49L405.56 743.49L406.56 743.49L407.56 743.49L408.57 743.49L409.57 743.49L410.57 743.49L411.58 743.49L412.58 743.49L413.58 743.49L414.59 743.49L415.59 743.49L416.59 743.49L417.6 743.49L418.6 743.49L419.6 743.49L420.6 743.49L421.61 743.49L422.61 743.49L423.61 743.49L424.62 743.49L425.62 743.49L426.62 743.49L427.62 743.49L428.63 743.49L429.63 743.49L430.63 743.49L431.64 743.49L432.64 743.49L433.64 743.49L434.65 743.49L435.65 743.49L436.65 743.49L437.66 743.49L438.66 743.49L439.66 743.49L440.66 743.49L441.67 743.49L442.67 743.49L443.67 743.49L444.68 743.49L445.68 743.49L446.68 743.5L447.69 743.5L448.69 743.5L449.69 743.5L450.69 743.5L451.7 743.5L452.7 743.5L453.7 743.5L454.71 743.5L455.71 743.5L456.71 743.5L457.72 743.5L458.72 743.5L459.72 743.5L460.72 743.5L461.73 743.5L462.73 743.5L463.73 743.5L464.74 743.5L465.74 743.5L466.74 743.5L467.75 743.5L468.75 743.5L469.75 743.5L470.75 743.5L471.76 743.5L472.76 743.5L473.76 743.5L474.77 743.5L475.77 743.5L476.77 743.5L477.77 743.5L478.78 743.5L479.78 743.5L480.78 743.5L481.79 743.5L482.79 743.5L483.79 743.5L484.8 743.51L485.8 743.51L486.8 743.51L487.81 743.51L488.81 743.51L489.81 743.51L490.81 743.51L491.82 743.51L492.82 743.52L493.82 743.52L494.83 743.52L495.83 743.52L496.83 743.53L497.84 743.53L498.84 743.53L499.84 743.54L500.84 743.54L501.85 743.55L502.85 743.55L503.85 743.56L504.86 743.57L505.86 743.57L506.86 743.58L507.87 743.59L508.87 743.6L509.87 743.61L510.87 743.62L511.88 743.63L512.88 743.65L513.88 743.66L514.89 743.68L515.89 743.7L516.89 743.72L517.89 743.74L518.9 743.77L519.9 743.8L520.9 743.83L521.91 743.86L522.91 743.9L523.91 743.94L524.92 743.99L525.92 744.03L526.92 744.09L527.92 744.15L528.93 744.22L529.93 744.29L530.93 744.37L531.94 744.46L532.94 744.55L533.94 744.66L534.95 744.78L535.95 744.91L536.95 745.05L537.96 745.2L538.96 745.37L539.96 745.56L540.96 745.77L541.97 745.99L542.97 746.24L543.97 746.52L544.98 746.81L545.98 747.14L546.98 747.5L547.99 747.89L548.99 748.32L549.99 748.79L550.99 749.31L552 749.87L553 750.48L554 751.15L555.01 751.87L556.01 752.66L557.01 753.52L558.01 754.45L559.02 755.46L560.02 756.56L561.02 757.74L562.03 759.01L563.03 760.38L564.03 761.85L565.04 763.42L566.04 765.1L567.04 766.9L568.04 768.81L569.05 770.83L570.05 772.98L571.05 775.23L572.06 777.6L573.06 780.08L574.06 782.67L575.07 785.35L576.07 788.13L577.07 790.99L578.08 793.92L579.08 796.92L580.08 799.97L581.08 803.05L582.09 806.15L583.09 809.27L584.09 812.37L585.1 815.46L586.1 818.51L587.1 821.52L588.11 824.46L589.11 827.33L590.11 830.12L591.11 832.81L592.12 835.41L593.12 837.9L594.12 840.29L595.13 842.55L596.13 844.71L597.13 846.75L598.13 848.67L599.14 850.48L600.14 852.18L601.14 853.77L602.15 855.25L603.15 856.63L604.15 857.91L605.16 859.1L606.16 860.2L607.16 861.22L608.16 862.16L609.17 863.03L610.17 863.83L611.17 864.56L612.18 865.24L613.18 865.86L614.18 866.42L615.19 866.94L616.19 867.42L617.19 867.85L618.19 868.25L619.2 868.61L620.2 868.94L621.2 869.24L622.21 869.52L623.21 869.77L624.21 870L625.22 870.21L626.22 870.4L627.22 870.57L628.23 870.73L629.23 870.87L630.23 871L631.23 871.12L632.24 871.23L633.24 871.33L634.24 871.42L635.25 871.5L636.25 871.57L637.25 871.64L638.25 871.7L639.26 871.75L640.26 871.8L641.26 871.85L642.27 871.89L643.27 871.93" fill="none" stroke="#F7941D" stroke-width="1.15"/>
<path d="M402.55 744.14L403.55 744.14L404.56 744.14L405.56 744.14L406.56 744.14L407.56 744.14L408.57 744.14L409.57 744.14L410.57 744.14L411.58 744.14L412.58 744.14L413.58 744.14L414.59 744.14L415.59 744.14L416.59 744.14L417.6 744.14L418.6 744.14L419.6 744.14L420.6 744.14L421.61 744.14L422.61 744.14L423.61 744.14L424.62 744.14L425.62 744.14L426.62 744.14L427.62 744.14L428.63 744.14L429.63 744.14L430.63 744.14L431.64 744.14L432.64 744.14L433.64 744.14L434.65 744.14L435.65 744.14L436.65 744.14L437.66 744.14L438.66 744.14L439.66 744.14L440.66 744.14L441.67 744.14L442.67 744.14L443.67 744.14L444.68 744.14L445.68 744.14L446.68 744.14L447.69 744.14L448.69 744.14L449.69 744.14L450.69 744.14L451.7 744.14L452.7 744.14L453.7 744.14L454.71 744.14L455.71 744.14L456.71 744.14L457.72 744.14L458.72 744.14L459.72 744.14L460.72 744.14L461.73 744.14L462.73 744.14L463.73 744.14L464.74 744.14L465.74 744.14L466.74 744.14L467.75 744.14L468.75 744.14L469.75 744.14L470.75 744.14L471.76 744.14L472.76 744.15L473.76 744.15L474.77 744.15L475.77 744.15L476.77 744.15L477.77 744.15L478.78 744.15L479.78 744.15L480.78 744.16L481.79 744.16L482.79 744.16L483.79 744.16L484.8 744.16L485.8 744.17L486.8 744.17L487.81 744.17L488.81 744.18L489.81 744.18L490.81 744.19L491.82 744.19L492.82 744.2L493.82 744.2L494.83 744.21L495.83 744.22L496.83 744.23L497.84 744.24L498.84 744.25L499.84 744.26L500.84 744.27L501.85 744.28L502.85 744.3L503.85 744.31L504.86 744.33L505.86 744.35L506.86 744.37L507.87 744.4L508.87 744.43L509.87 744.45L510.87 744.49L511.88 744.52L512.88 744.56L513.88 744.61L514.89 744.65L515.89 744.71L516.89 744.77L517.89 744.83L518.9 744.9L519.9 744.98L520.9 745.07L521.91 745.16L522.91 745.26L523.91 745.38L524.92 745.51L525.92 745.64L526.92 745.8L527.92 745.97L528.93 746.15L529.93 746.35L530.93 746.58L531.94 746.82L532.94 747.09L533.94 747.39L534.95 747.71L535.95 748.07L536.95 748.46L537.96 748.89L538.96 749.36L539.96 749.87L540.96 750.43L541.97 751.04L542.97 751.71L543.97 752.44L544.98 753.23L545.98 754.1L546.98 755.03L547.99 756.05L548.99 757.15L549.99 758.34L550.99 759.62L552 761.01L553 762.49L554 764.08L555.01 765.79L556.01 767.61L557.01 769.54L558.01 771.59L559.02 773.76L560.02 776.05L561.02 778.45L562.03 780.97L563.03 783.59L564.03 786.31L565.04 789.12L566.04 792.02L567.04 794.99L568.04 798.02L569.05 801.1L570.05 804.21L571.05 807.34L572.06 810.48L573.06 813.6L574.06 816.7L575.07 819.76L576.07 822.76L577.07 825.7L578.08 828.56L579.08 831.34L580.08 834.01L581.08 836.59L582.09 839.05L583.09 841.41L584.09 843.64L585.1 845.76L586.1 847.76L587.1 849.64L588.11 851.41L589.11 853.07L590.11 854.61L591.11 856.05L592.12 857.39L593.12 858.63L594.12 859.78L595.13 860.84L596.13 861.83L597.13 862.73L598.13 863.56L599.14 864.32L600.14 865.03L601.14 865.67L602.15 866.26L603.15 866.8L604.15 867.29L605.16 867.74L606.16 868.15L607.16 868.53L608.16 868.87L609.17 869.18L610.17 869.47L611.17 869.72L612.18 869.96L613.18 870.17L614.18 870.37L615.19 870.55L616.19 870.71L617.19 870.86L618.19 870.99L619.2 871.11L620.2 871.22L621.2 871.32L622.21 871.41L623.21 871.49L624.21 871.57L625.22 871.64L626.22 871.7L627.22 871.75L628.23 871.8L629.23 871.85L630.23 871.89L631.23 871.93L632.24 871.96L633.24 872L634.24 872.02L635.25 872.05L636.25 872.07L637.25 872.09L638.25 872.11L639.26 872.13L640.26 872.15L641.26 872.16L642.27 872.17L643.27 872.19" fill="none" stroke="#000000" stroke-width="1.15"/>
<path d="M402.55 747.55L406.05 741.25L399.05 741.25Z" fill="#4A8BD0"/>
<path d="M442.67 747.55L446.17 741.25L439.17 741.25Z" fill="#4A8BD0"/>
<path d="M482.79 769.51L486.29 763.21L479.29 763.21Z" fill="#4A8BD0"/>
<path d="M522.91 874.95L526.41 868.65L519.41 868.65Z" fill="#4A8BD0"/>
<path d="M563.03 875.33L566.53 869.03L559.53 869.03Z" fill="#4A8BD0"/>
<path d="M603.15 875.33L606.65 869.03L599.65 869.03Z" fill="#4A8BD0"/>
<path d="M643.27 875.33L646.77 869.03L639.77 869.03Z" fill="#4A8BD0"/>
<path d="M442.67 745.16L442.67 752.87M439.17 745.16L446.17 745.16M439.17 752.87L446.17 752.87M482.79 813.36L482.79 826.97M479.29 813.36L486.29 813.36M479.29 826.97L486.29 826.97" fill="none" stroke="#7B5BA6" stroke-width="1.2"/>
<path d="M402.55 740.21L406.05 746.5L399.05 746.5Z" fill="#7B5BA6"/>
<path d="M442.67 745.34L446.17 751.64L439.17 751.64Z" fill="#7B5BA6"/>
<path d="M482.79 816.49L486.29 822.79L479.29 822.79Z" fill="#7B5BA6"/>
<path d="M522.91 868.24L526.41 874.54L519.41 874.54Z" fill="#7B5BA6"/>
<path d="M563.03 868.24L566.53 874.54L559.53 874.54Z" fill="#7B5BA6"/>
<path d="M603.15 868.24L606.65 874.54L599.65 874.54Z" fill="#7B5BA6"/>
<path d="M643.27 868.24L646.77 874.54L639.77 874.54Z" fill="#7B5BA6"/>
<rect x="399.25" y="739.94" width="6.6" height="6.6" fill="#F37421"/>
<rect x="439.37" y="739.94" width="6.6" height="6.6" fill="#F37421"/>
<rect x="479.49" y="738.65" width="6.6" height="6.6" fill="#F37421"/>
<rect x="519.61" y="743.15" width="6.6" height="6.6" fill="#F37421"/>
<rect x="559.73" y="757.4" width="6.6" height="6.6" fill="#F37421"/>
<rect x="599.85" y="852.43" width="6.6" height="6.6" fill="#F37421"/>
<rect x="639.97" y="867.97" width="6.6" height="6.6" fill="#F37421"/>
<path d="M563.03 779.07L563.03 787.8M559.53 779.07L566.53 779.07M559.53 787.8L566.53 787.8" fill="none" stroke="#000000" stroke-width="1.2"/>
<circle cx="402.55" cy="745.81" r="3.25" fill="#000000"/>
<circle cx="442.67" cy="745.81" r="3.25" fill="#000000"/>
<circle cx="482.79" cy="744.91" r="3.25" fill="#000000"/>
<circle cx="522.91" cy="747.73" r="3.25" fill="#000000"/>
<circle cx="563.03" cy="783.43" r="3.25" fill="#000000"/>
<circle cx="603.15" cy="865.24" r="3.25" fill="#000000"/>
<circle cx="643.27" cy="872.04" r="3.25" fill="#000000"/>
<text x="180.6" y="986.2" font-size="15" font-weight="bold" text-anchor="middle">Trametinib</text>
<text x="180.6" y="1004.9" font-size="15" text-anchor="middle">(MEK1/2i)</text>
<path d="M60.1 1025.4L60.1 1192.3M60.1 1186.3L301.42 1186.3M53.8 1180.1L60.1 1180.1M53.8 1154.42L60.1 1154.42M53.8 1128.73L60.1 1128.73M53.8 1103.05L60.1 1103.05M53.8 1077.36L60.1 1077.36M53.8 1051.68L60.1 1051.68M53.8 1026L60.1 1026M56.5 1167.26L60.1 1167.26M56.5 1141.57L60.1 1141.57M56.5 1115.89L60.1 1115.89M56.5 1090.21L60.1 1090.21M56.5 1064.52L60.1 1064.52M56.5 1038.84L60.1 1038.84M60.1 1186.3L60.1 1192.3M72.18 1186.3L72.18 1190.1M79.24 1186.3L79.24 1190.1M84.25 1186.3L84.25 1190.1M88.14 1186.3L88.14 1190.1M91.32 1186.3L91.32 1190.1M94.01 1186.3L94.01 1190.1M96.33 1186.3L96.33 1190.1M98.38 1186.3L98.38 1190.1M100.22 1186.3L100.22 1192.3M112.3 1186.3L112.3 1190.1M119.36 1186.3L119.36 1190.1M124.37 1186.3L124.37 1190.1M128.26 1186.3L128.26 1190.1M131.44 1186.3L131.44 1190.1M134.13 1186.3L134.13 1190.1M136.45 1186.3L136.45 1190.1M138.5 1186.3L138.5 1190.1M140.34 1186.3L140.34 1192.3M152.42 1186.3L152.42 1190.1M159.48 1186.3L159.48 1190.1M164.49 1186.3L164.49 1190.1M168.38 1186.3L168.38 1190.1M171.56 1186.3L171.56 1190.1M174.25 1186.3L174.25 1190.1M176.57 1186.3L176.57 1190.1M178.62 1186.3L178.62 1190.1M180.46 1186.3L180.46 1192.3M192.54 1186.3L192.54 1190.1M199.6 1186.3L199.6 1190.1M204.61 1186.3L204.61 1190.1M208.5 1186.3L208.5 1190.1M211.68 1186.3L211.68 1190.1M214.37 1186.3L214.37 1190.1M216.69 1186.3L216.69 1190.1M218.74 1186.3L218.74 1190.1M220.58 1186.3L220.58 1192.3M232.66 1186.3L232.66 1190.1M239.72 1186.3L239.72 1190.1M244.73 1186.3L244.73 1190.1M248.62 1186.3L248.62 1190.1M251.8 1186.3L251.8 1190.1M254.49 1186.3L254.49 1190.1M256.81 1186.3L256.81 1190.1M258.86 1186.3L258.86 1190.1M260.7 1186.3L260.7 1192.3M272.78 1186.3L272.78 1190.1M279.84 1186.3L279.84 1190.1M284.85 1186.3L284.85 1190.1M288.74 1186.3L288.74 1190.1M291.92 1186.3L291.92 1190.1M294.61 1186.3L294.61 1190.1M296.93 1186.3L296.93 1190.1M298.98 1186.3L298.98 1190.1M300.82 1186.3L300.82 1192.3" fill="none" stroke="#262626" stroke-width="1.25"/>
<text x="51.2" y="1184.5" font-size="11.7" text-anchor="end">0</text>
<text x="51.2" y="1158.82" font-size="11.7" text-anchor="end">20</text>
<text x="51.2" y="1133.13" font-size="11.7" text-anchor="end">40</text>
<text x="51.2" y="1107.45" font-size="11.7" text-anchor="end">60</text>
<text x="51.2" y="1081.76" font-size="11.7" text-anchor="end">80</text>
<text x="51.2" y="1056.08" font-size="11.7" text-anchor="end">100</text>
<text x="51.2" y="1030.4" font-size="11.7" text-anchor="end">120</text>
<text x="60.1" y="1206.4" font-size="11.7" text-anchor="middle">0.01</text>
<text x="100.22" y="1206.4" font-size="11.7" text-anchor="middle">0.1</text>
<text x="140.34" y="1206.4" font-size="11.7" text-anchor="middle">1</text>
<text x="180.46" y="1206.4" font-size="11.7" text-anchor="middle">10</text>
<text x="220.58" y="1206.4" font-size="11.7" text-anchor="middle">100</text>
<text x="260.7" y="1206.4" font-size="11.7" text-anchor="middle">1000</text>
<text x="300.82" y="1206.4" font-size="11.7" text-anchor="middle">10000</text>
<text x="181" y="1225.8" font-size="13" text-anchor="middle">Concentration (nM)</text>
<text transform="translate(23.1 1106.8) rotate(-90)" font-size="13" text-anchor="middle">Viability%</text>
<line x1="60.1" y1="1115.89" x2="300.82" y2="1115.89" stroke="#222" stroke-width="1" stroke-dasharray="1.2 1.4"/>
<line x1="203.15" y1="1026" x2="203.15" y2="1186.3" stroke="#DDF2FB" stroke-width="1.8"/>
<line x1="203.15" y1="1026" x2="203.15" y2="1186.3" stroke="#86D0F0" stroke-width="1.7" stroke-dasharray="1.3 1.33"/>
<path d="M60.1 1051.27L61.1 1051.29L62.11 1051.3L63.11 1051.31L64.11 1051.33L65.11 1051.34L66.12 1051.36L67.12 1051.37L68.12 1051.39L69.13 1051.41L70.13 1051.43L71.13 1051.45L72.14 1051.47L73.14 1051.49L74.14 1051.51L75.14 1051.53L76.15 1051.56L77.15 1051.59L78.15 1051.61L79.16 1051.64L80.16 1051.68L81.16 1051.71L82.17 1051.74L83.17 1051.78L84.17 1051.82L85.17 1051.85L86.18 1051.9L87.18 1051.94L88.18 1051.99L89.19 1052.03L90.19 1052.08L91.19 1052.14L92.2 1052.19L93.2 1052.25L94.2 1052.31L95.2 1052.38L96.21 1052.44L97.21 1052.52L98.21 1052.59L99.22 1052.67L100.22 1052.75L101.22 1052.84L102.23 1052.93L103.23 1053.02L104.23 1053.12L105.23 1053.23L106.24 1053.34L107.24 1053.45L108.24 1053.57L109.25 1053.7L110.25 1053.83L111.25 1053.97L112.26 1054.12L113.26 1054.27L114.26 1054.43L115.27 1054.6L116.27 1054.78L117.27 1054.96L118.27 1055.16L119.28 1055.36L120.28 1055.57L121.28 1055.8L122.29 1056.03L123.29 1056.27L124.29 1056.53L125.29 1056.79L126.3 1057.07L127.3 1057.37L128.3 1057.67L129.31 1057.99L130.31 1058.32L131.31 1058.67L132.32 1059.03L133.32 1059.41L134.32 1059.81L135.32 1060.22L136.33 1060.65L137.33 1061.1L138.33 1061.57L139.34 1062.06L140.34 1062.56L141.34 1063.09L142.35 1063.64L143.35 1064.21L144.35 1064.81L145.35 1065.42L146.36 1066.06L147.36 1066.73L148.36 1067.41L149.37 1068.13L150.37 1068.86L151.37 1069.63L152.38 1070.42L153.38 1071.24L154.38 1072.08L155.38 1072.95L156.39 1073.85L157.39 1074.78L158.39 1075.73L159.4 1076.71L160.4 1077.72L161.4 1078.75L162.41 1079.81L163.41 1080.9L164.41 1082.02L165.41 1083.16L166.42 1084.32L167.42 1085.51L168.42 1086.73L169.43 1087.96L170.43 1089.22L171.43 1090.5L172.44 1091.8L173.44 1093.12L174.44 1094.46L175.44 1095.81L176.45 1097.18L177.45 1098.56L178.45 1099.95L179.46 1101.36L180.46 1102.77L181.46 1104.18L182.47 1105.61L183.47 1107.03L184.47 1108.46L185.47 1109.89L186.48 1111.31L187.48 1112.73L188.48 1114.15L189.49 1115.56L190.49 1116.95L191.49 1118.34L192.5 1119.72L193.5 1121.08L194.5 1122.43L195.5 1123.76L196.51 1125.07L197.51 1126.37L198.51 1127.64L199.52 1128.89L200.52 1130.12L201.52 1131.33L202.53 1132.51L203.53 1133.67L204.53 1134.8L205.53 1135.9L206.54 1136.98L207.54 1138.04L208.54 1139.06L209.55 1140.06L210.55 1141.03L211.55 1141.97L212.56 1142.89L213.56 1143.78L214.56 1144.64L215.56 1145.47L216.57 1146.28L217.57 1147.06L218.57 1147.82L219.58 1148.55L220.58 1149.25L221.58 1149.93L222.59 1150.59L223.59 1151.22L224.59 1151.83L225.59 1152.41L226.6 1152.98L227.6 1153.52L228.6 1154.04L229.61 1154.54L230.61 1155.02L231.61 1155.48L232.62 1155.92L233.62 1156.35L234.62 1156.76L235.62 1157.15L236.63 1157.52L237.63 1157.88L238.63 1158.22L239.64 1158.55L240.64 1158.86L241.64 1159.16L242.65 1159.45L243.65 1159.73L244.65 1159.99L245.65 1160.24L246.66 1160.48L247.66 1160.71L248.66 1160.93L249.67 1161.14L250.67 1161.34L251.67 1161.53L252.68 1161.71L253.68 1161.88L254.68 1162.05L255.68 1162.21L256.69 1162.36L257.69 1162.5L258.69 1162.64L259.7 1162.77L260.7 1162.9L261.7 1163.01L262.71 1163.13L263.71 1163.24L264.71 1163.34L265.71 1163.44L266.72 1163.53L267.72 1163.62L268.72 1163.7L269.73 1163.79L270.73 1163.86L271.73 1163.94L272.74 1164.01L273.74 1164.07L274.74 1164.14L275.75 1164.2L276.75 1164.25L277.75 1164.31L278.75 1164.36L279.76 1164.41L280.76 1164.46L281.76 1164.5L282.77 1164.55L283.77 1164.59L284.77 1164.63L285.77 1164.66L286.78 1164.7L287.78 1164.73L288.78 1164.76L289.79 1164.79L290.79 1164.82L291.79 1164.85L292.8 1164.88L293.8 1164.9L294.8 1164.92L295.81 1164.95L296.81 1164.97L297.81 1164.99L298.81 1165.01L299.82 1165.03L300.82 1165.04" fill="none" stroke="#4A8BD0" stroke-width="1.15"/>
<path d="M60.1 1051.8L61.1 1051.8L62.11 1051.81L63.11 1051.81L64.11 1051.82L65.11 1051.82L66.12 1051.82L67.12 1051.83L68.12 1051.83L69.13 1051.84L70.13 1051.84L71.13 1051.85L72.14 1051.86L73.14 1051.86L74.14 1051.87L75.14 1051.87L76.15 1051.88L77.15 1051.89L78.15 1051.89L79.16 1051.9L80.16 1051.91L81.16 1051.91L82.17 1051.92L83.17 1051.93L84.17 1051.94L85.17 1051.95L86.18 1051.95L87.18 1051.96L88.18 1051.97L89.19 1051.98L90.19 1051.99L91.19 1052L92.2 1052.01L93.2 1052.02L94.2 1052.03L95.2 1052.05L96.21 1052.06L97.21 1052.07L98.21 1052.08L99.22 1052.1L100.22 1052.11L101.22 1052.12L102.23 1052.14L103.23 1052.15L104.23 1052.17L105.23 1052.18L106.24 1052.2L107.24 1052.22L108.24 1052.23L109.25 1052.25L110.25 1052.27L111.25 1052.29L112.26 1052.31L113.26 1052.33L114.26 1052.35L115.27 1052.37L116.27 1052.39L117.27 1052.42L118.27 1052.44L119.28 1052.47L120.28 1052.49L121.28 1052.52L122.29 1052.54L123.29 1052.57L124.29 1052.6L125.29 1052.63L126.3 1052.66L127.3 1052.69L128.3 1052.73L129.31 1052.76L130.31 1052.79L131.31 1052.83L132.32 1052.87L133.32 1052.9L134.32 1052.94L135.32 1052.98L136.33 1053.03L137.33 1053.07L138.33 1053.11L139.34 1053.16L140.34 1053.21L141.34 1053.26L142.35 1053.31L143.35 1053.36L144.35 1053.41L145.35 1053.47L146.36 1053.53L147.36 1053.59L148.36 1053.65L149.37 1053.71L150.37 1053.77L151.37 1053.84L152.38 1053.91L153.38 1053.98L154.38 1054.05L155.38 1054.13L156.39 1054.21L157.39 1054.29L158.39 1054.37L159.4 1054.45L160.4 1054.54L161.4 1054.63L162.41 1054.73L163.41 1054.82L164.41 1054.92L165.41 1055.02L166.42 1055.13L167.42 1055.24L168.42 1055.35L169.43 1055.46L170.43 1055.58L171.43 1055.71L172.44 1055.83L173.44 1055.96L174.44 1056.09L175.44 1056.23L176.45 1056.37L177.45 1056.52L178.45 1056.67L179.46 1056.82L180.46 1056.98L181.46 1057.14L182.47 1057.31L183.47 1057.49L184.47 1057.66L185.47 1057.85L186.48 1058.03L187.48 1058.23L188.48 1058.43L189.49 1058.63L190.49 1058.84L191.49 1059.06L192.5 1059.28L193.5 1059.51L194.5 1059.75L195.5 1059.99L196.51 1060.23L197.51 1060.49L198.51 1060.75L199.52 1061.02L200.52 1061.29L201.52 1061.58L202.53 1061.87L203.53 1062.16L204.53 1062.47L205.53 1062.78L206.54 1063.1L207.54 1063.43L208.54 1063.77L209.55 1064.12L210.55 1064.47L211.55 1064.83L212.56 1065.2L213.56 1065.58L214.56 1065.97L215.56 1066.37L216.57 1066.78L217.57 1067.2L218.57 1067.62L219.58 1068.06L220.58 1068.5L221.58 1068.96L222.59 1069.42L223.59 1069.9L224.59 1070.38L225.59 1070.88L226.6 1071.38L227.6 1071.9L228.6 1072.42L229.61 1072.95L230.61 1073.5L231.61 1074.05L232.62 1074.62L233.62 1075.19L234.62 1075.78L235.62 1076.37L236.63 1076.98L237.63 1077.59L238.63 1078.21L239.64 1078.85L240.64 1079.49L241.64 1080.14L242.65 1080.81L243.65 1081.48L244.65 1082.16L245.65 1082.85L246.66 1083.54L247.66 1084.25L248.66 1084.96L249.67 1085.69L250.67 1086.42L251.67 1087.15L252.68 1087.9L253.68 1088.65L254.68 1089.41L255.68 1090.17L256.69 1090.94L257.69 1091.72L258.69 1092.5L259.7 1093.28L260.7 1094.07L261.7 1094.87L262.71 1095.67L263.71 1096.47L264.71 1097.28L265.71 1098.09L266.72 1098.9L267.72 1099.71L268.72 1100.52L269.73 1101.34L270.73 1102.15L271.73 1102.97L272.74 1103.78L273.74 1104.6L274.74 1105.41L275.75 1106.23L276.75 1107.04L277.75 1107.85L278.75 1108.65L279.76 1109.45L280.76 1110.25L281.76 1111.05L282.77 1111.84L283.77 1112.63L284.77 1113.41L285.77 1114.18L286.78 1114.96L287.78 1115.72L288.78 1116.48L289.79 1117.23L290.79 1117.97L291.79 1118.71L292.8 1119.44L293.8 1120.17L294.8 1120.88L295.81 1121.59L296.81 1122.28L297.81 1122.97L298.81 1123.65L299.82 1124.33L300.82 1124.99" fill="none" stroke="#7B5BA6" stroke-width="1.15"/>
<path d="M60.1 1051.07L61.1 1051.07L62.11 1051.07L63.11 1051.08L64.11 1051.08L65.11 1051.08L66.12 1051.08L67.12 1051.08L68.12 1051.09L69.13 1051.09L70.13 1051.09L71.13 1051.09L72.14 1051.1L73.14 1051.1L74.14 1051.1L75.14 1051.1L76.15 1051.11L77.15 1051.11L78.15 1051.11L79.16 1051.12L80.16 1051.12L81.16 1051.12L82.17 1051.13L83.17 1051.13L84.17 1051.14L85.17 1051.14L86.18 1051.15L87.18 1051.15L88.18 1051.16L89.19 1051.16L90.19 1051.17L91.19 1051.18L92.2 1051.18L93.2 1051.19L94.2 1051.2L95.2 1051.2L96.21 1051.21L97.21 1051.22L98.21 1051.23L99.22 1051.24L100.22 1051.25L101.22 1051.26L102.23 1051.27L103.23 1051.28L104.23 1051.29L105.23 1051.3L106.24 1051.31L107.24 1051.33L108.24 1051.34L109.25 1051.35L110.25 1051.37L111.25 1051.38L112.26 1051.4L113.26 1051.42L114.26 1051.43L115.27 1051.45L116.27 1051.47L117.27 1051.49L118.27 1051.51L119.28 1051.54L120.28 1051.56L121.28 1051.58L122.29 1051.61L123.29 1051.64L124.29 1051.67L125.29 1051.69L126.3 1051.73L127.3 1051.76L128.3 1051.79L129.31 1051.83L130.31 1051.86L131.31 1051.9L132.32 1051.94L133.32 1051.98L134.32 1052.03L135.32 1052.07L136.33 1052.12L137.33 1052.17L138.33 1052.22L139.34 1052.28L140.34 1052.34L141.34 1052.4L142.35 1052.46L143.35 1052.53L144.35 1052.59L145.35 1052.67L146.36 1052.74L147.36 1052.82L148.36 1052.9L149.37 1052.98L150.37 1053.07L151.37 1053.17L152.38 1053.26L153.38 1053.36L154.38 1053.47L155.38 1053.58L156.39 1053.69L157.39 1053.81L158.39 1053.94L159.4 1054.07L160.4 1054.2L161.4 1054.34L162.41 1054.49L163.41 1054.64L164.41 1054.8L165.41 1054.97L166.42 1055.14L167.42 1055.32L168.42 1055.51L169.43 1055.7L170.43 1055.9L171.43 1056.11L172.44 1056.33L173.44 1056.55L174.44 1056.79L175.44 1057.03L176.45 1057.28L177.45 1057.54L178.45 1057.82L179.46 1058.1L180.46 1058.39L181.46 1058.69L182.47 1059L183.47 1059.32L184.47 1059.65L185.47 1059.99L186.48 1060.34L187.48 1060.71L188.48 1061.08L189.49 1061.47L190.49 1061.86L191.49 1062.27L192.5 1062.69L193.5 1063.12L194.5 1063.57L195.5 1064.02L196.51 1064.49L197.51 1064.96L198.51 1065.45L199.52 1065.95L200.52 1066.46L201.52 1066.98L202.53 1067.51L203.53 1068.05L204.53 1068.6L205.53 1069.16L206.54 1069.73L207.54 1070.3L208.54 1070.89L209.55 1071.48L210.55 1072.08L211.55 1072.69L212.56 1073.3L213.56 1073.92L214.56 1074.54L215.56 1075.17L216.57 1075.8L217.57 1076.44L218.57 1077.07L219.58 1077.71L220.58 1078.35L221.58 1078.99L222.59 1079.63L223.59 1080.27L224.59 1080.91L225.59 1081.54L226.6 1082.17L227.6 1082.8L228.6 1083.42L229.61 1084.04L230.61 1084.65L231.61 1085.26L232.62 1085.86L233.62 1086.46L234.62 1087.04L235.62 1087.62L236.63 1088.19L237.63 1088.75L238.63 1089.3L239.64 1089.84L240.64 1090.37L241.64 1090.89L242.65 1091.4L243.65 1091.9L244.65 1092.39L245.65 1092.87L246.66 1093.33L247.66 1093.79L248.66 1094.23L249.67 1094.66L250.67 1095.08L251.67 1095.49L252.68 1095.89L253.68 1096.28L254.68 1096.65L255.68 1097.02L256.69 1097.37L257.69 1097.71L258.69 1098.05L259.7 1098.37L260.7 1098.68L261.7 1098.98L262.71 1099.27L263.71 1099.55L264.71 1099.82L265.71 1100.08L266.72 1100.34L267.72 1100.58L268.72 1100.81L269.73 1101.04L270.73 1101.26L271.73 1101.47L272.74 1101.67L273.74 1101.87L274.74 1102.05L275.75 1102.23L276.75 1102.4L277.75 1102.57L278.75 1102.73L279.76 1102.88L280.76 1103.03L281.76 1103.17L282.77 1103.31L283.77 1103.44L284.77 1103.56L285.77 1103.68L286.78 1103.8L287.78 1103.91L288.78 1104.01L289.79 1104.12L290.79 1104.21L291.79 1104.31L292.8 1104.39L293.8 1104.48L294.8 1104.56L295.81 1104.64L296.81 1104.72L297.81 1104.79L298.81 1104.86L299.82 1104.92L300.82 1104.98" fill="none" stroke="#F7941D" stroke-width="1.15"/>
<path d="M60.1 1051.75L61.1 1051.78L62.11 1051.8L63.11 1051.83L64.11 1051.86L65.11 1051.89L66.12 1051.91L67.12 1051.94L68.12 1051.98L69.13 1052.01L70.13 1052.04L71.13 1052.08L72.14 1052.11L73.14 1052.15L74.14 1052.19L75.14 1052.23L76.15 1052.27L77.15 1052.31L78.15 1052.35L79.16 1052.4L80.16 1052.45L81.16 1052.49L82.17 1052.54L83.17 1052.6L84.17 1052.65L85.17 1052.7L86.18 1052.76L87.18 1052.82L88.18 1052.88L89.19 1052.95L90.19 1053.01L91.19 1053.08L92.2 1053.15L93.2 1053.22L94.2 1053.29L95.2 1053.37L96.21 1053.45L97.21 1053.53L98.21 1053.62L99.22 1053.71L100.22 1053.8L101.22 1053.89L102.23 1053.99L103.23 1054.09L104.23 1054.19L105.23 1054.3L106.24 1054.41L107.24 1054.52L108.24 1054.64L109.25 1054.76L110.25 1054.89L111.25 1055.02L112.26 1055.15L113.26 1055.29L114.26 1055.43L115.27 1055.58L116.27 1055.73L117.27 1055.88L118.27 1056.04L119.28 1056.21L120.28 1056.38L121.28 1056.56L122.29 1056.74L123.29 1056.93L124.29 1057.12L125.29 1057.32L126.3 1057.52L127.3 1057.73L128.3 1057.95L129.31 1058.17L130.31 1058.4L131.31 1058.64L132.32 1058.88L133.32 1059.13L134.32 1059.39L135.32 1059.66L136.33 1059.93L137.33 1060.21L138.33 1060.49L139.34 1060.79L140.34 1061.09L141.34 1061.41L142.35 1061.72L143.35 1062.05L144.35 1062.39L145.35 1062.74L146.36 1063.09L147.36 1063.45L148.36 1063.83L149.37 1064.21L150.37 1064.6L151.37 1065L152.38 1065.41L153.38 1065.82L154.38 1066.25L155.38 1066.69L156.39 1067.14L157.39 1067.6L158.39 1068.06L159.4 1068.54L160.4 1069.03L161.4 1069.52L162.41 1070.03L163.41 1070.55L164.41 1071.07L165.41 1071.61L166.42 1072.15L167.42 1072.71L168.42 1073.27L169.43 1073.84L170.43 1074.43L171.43 1075.02L172.44 1075.62L173.44 1076.23L174.44 1076.85L175.44 1077.47L176.45 1078.11L177.45 1078.75L178.45 1079.4L179.46 1080.06L180.46 1080.72L181.46 1081.39L182.47 1082.07L183.47 1082.75L184.47 1083.44L185.47 1084.14L186.48 1084.84L187.48 1085.55L188.48 1086.26L189.49 1086.97L190.49 1087.69L191.49 1088.41L192.5 1089.14L193.5 1089.86L194.5 1090.59L195.5 1091.32L196.51 1092.05L197.51 1092.78L198.51 1093.52L199.52 1094.25L200.52 1094.98L201.52 1095.71L202.53 1096.44L203.53 1097.16L204.53 1097.89L205.53 1098.61L206.54 1099.33L207.54 1100.04L208.54 1100.75L209.55 1101.46L210.55 1102.16L211.55 1102.86L212.56 1103.55L213.56 1104.23L214.56 1104.91L215.56 1105.58L216.57 1106.25L217.57 1106.9L218.57 1107.55L219.58 1108.2L220.58 1108.83L221.58 1109.46L222.59 1110.08L223.59 1110.69L224.59 1111.29L225.59 1111.88L226.6 1112.46L227.6 1113.04L228.6 1113.6L229.61 1114.16L230.61 1114.7L231.61 1115.24L232.62 1115.76L233.62 1116.28L234.62 1116.79L235.62 1117.28L236.63 1117.77L237.63 1118.25L238.63 1118.71L239.64 1119.17L240.64 1119.62L241.64 1120.06L242.65 1120.49L243.65 1120.91L244.65 1121.32L245.65 1121.72L246.66 1122.11L247.66 1122.49L248.66 1122.86L249.67 1123.22L250.67 1123.58L251.67 1123.92L252.68 1124.26L253.68 1124.59L254.68 1124.91L255.68 1125.22L256.69 1125.53L257.69 1125.82L258.69 1126.11L259.7 1126.39L260.7 1126.66L261.7 1126.93L262.71 1127.19L263.71 1127.44L264.71 1127.68L265.71 1127.92L266.72 1128.15L267.72 1128.37L268.72 1128.59L269.73 1128.8L270.73 1129L271.73 1129.2L272.74 1129.4L273.74 1129.58L274.74 1129.76L275.75 1129.94L276.75 1130.11L277.75 1130.28L278.75 1130.44L279.76 1130.59L280.76 1130.75L281.76 1130.89L282.77 1131.04L283.77 1131.17L284.77 1131.31L285.77 1131.44L286.78 1131.56L287.78 1131.68L288.78 1131.8L289.79 1131.91L290.79 1132.02L291.79 1132.13L292.8 1132.24L293.8 1132.34L294.8 1132.43L295.81 1132.53L296.81 1132.62L297.81 1132.71L298.81 1132.79L299.82 1132.87L300.82 1132.95" fill="none" stroke="#000000" stroke-width="1.15"/>
<path d="M100.22 1044.87L100.22 1053.35M96.72 1044.87L103.72 1044.87M96.72 1053.35L103.72 1053.35M220.58 1141.19L220.58 1148.89M217.08 1141.19L224.08 1141.19M217.08 1148.89L224.08 1148.89" fill="none" stroke="#4A8BD0" stroke-width="1.2"/>
<path d="M60.1 1055.35L63.6 1049.05L56.6 1049.05Z" fill="#4A8BD0"/>
<path d="M100.22 1052.79L103.72 1046.49L96.72 1046.49Z" fill="#4A8BD0"/>
<path d="M140.34 1060.49L143.84 1054.19L136.84 1054.19Z" fill="#4A8BD0"/>
<path d="M180.46 1111.09L183.96 1104.79L176.96 1104.79Z" fill="#4A8BD0"/>
<path d="M220.58 1148.72L224.08 1142.42L217.08 1142.42Z" fill="#4A8BD0"/>
<path d="M260.7 1162.59L264.2 1156.29L257.2 1156.29Z" fill="#4A8BD0"/>
<path d="M300.82 1174.79L304.32 1168.49L297.32 1168.49Z" fill="#4A8BD0"/>
<path d="M220.58 1066.19L220.58 1073.9M217.08 1066.19L224.08 1066.19M217.08 1073.9L224.08 1073.9M260.7 1083.14L260.7 1103.69M257.2 1083.14L264.2 1083.14M257.2 1103.69L264.2 1103.69M300.82 1112.29L300.82 1137.98M297.32 1112.29L304.32 1112.29M297.32 1137.98L304.32 1137.98" fill="none" stroke="#7B5BA6" stroke-width="1.2"/>
<path d="M60.1 1048L63.6 1054.3L56.6 1054.3Z" fill="#7B5BA6"/>
<path d="M100.22 1046.72L103.72 1053.02L96.72 1053.02Z" fill="#7B5BA6"/>
<path d="M140.34 1049.29L143.84 1055.59L136.84 1055.59Z" fill="#7B5BA6"/>
<path d="M180.46 1051.86L183.96 1058.16L176.96 1058.16Z" fill="#7B5BA6"/>
<path d="M220.58 1066.37L224.08 1072.67L217.08 1072.67Z" fill="#7B5BA6"/>
<path d="M260.7 1089.74L264.2 1096.04L257.2 1096.04Z" fill="#7B5BA6"/>
<path d="M300.82 1121.46L304.32 1127.76L297.32 1127.76Z" fill="#7B5BA6"/>
<path d="M100.22 1045.9L100.22 1051.04M96.72 1045.9L103.72 1045.9M96.72 1051.04L103.72 1051.04M180.46 1054.89L180.46 1064.39M176.96 1054.89L183.96 1054.89M176.96 1064.39L183.96 1064.39M220.58 1070.69L220.58 1083.53M217.08 1070.69L224.08 1070.69M217.08 1083.53L224.08 1083.53M260.7 1094.44L260.7 1106M257.2 1094.44L264.2 1094.44M257.2 1106L264.2 1106M300.82 1098.94L300.82 1109.21M297.32 1098.94L304.32 1098.94M297.32 1109.21L304.32 1109.21" fill="none" stroke="#F37421" stroke-width="1.2"/>
<rect x="56.8" y="1047.1" width="6.6" height="6.6" fill="#F37421"/>
<rect x="96.92" y="1045.17" width="6.6" height="6.6" fill="#F37421"/>
<rect x="137.04" y="1049.66" width="6.6" height="6.6" fill="#F37421"/>
<rect x="177.16" y="1056.34" width="6.6" height="6.6" fill="#F37421"/>
<rect x="217.28" y="1073.81" width="6.6" height="6.6" fill="#F37421"/>
<rect x="257.4" y="1096.92" width="6.6" height="6.6" fill="#F37421"/>
<rect x="297.52" y="1100.78" width="6.6" height="6.6" fill="#F37421"/>
<path d="M140.34 1059.77L140.34 1064.91M136.84 1059.77L143.84 1059.77M136.84 1064.91L143.84 1064.91M180.46 1073.77L180.46 1086.61M176.96 1073.77L183.96 1073.77M176.96 1086.61L183.96 1086.61M220.58 1104.08L220.58 1112.55M217.08 1104.08L224.08 1104.08M217.08 1112.55L224.08 1112.55M260.7 1123.98L260.7 1132.46M257.2 1123.98L264.2 1123.98M257.2 1132.46L264.2 1132.46M300.82 1128.09L300.82 1135.8M297.32 1128.09L304.32 1128.09M297.32 1135.8L304.32 1135.8" fill="none" stroke="#000000" stroke-width="1.2"/>
<circle cx="60.1" cy="1051.55" r="3.25" fill="#000000"/>
<circle cx="100.22" cy="1053.22" r="3.25" fill="#000000"/>
<circle cx="140.34" cy="1062.34" r="3.25" fill="#000000"/>
<circle cx="180.46" cy="1080.19" r="3.25" fill="#000000"/>
<circle cx="220.58" cy="1108.31" r="3.25" fill="#000000"/>
<circle cx="260.7" cy="1128.22" r="3.25" fill="#000000"/>
<circle cx="300.82" cy="1131.94" r="3.25" fill="#000000"/>
<text x="523" y="986.2" font-size="15" font-weight="bold" text-anchor="middle">Pimasertib</text>
<text x="523" y="1004.9" font-size="15" text-anchor="middle">(MEK1/2i)</text>
<path d="M402.5 1025.4L402.5 1192.3M402.5 1186.3L643.82 1186.3M396.2 1180.1L402.5 1180.1M396.2 1154.42L402.5 1154.42M396.2 1128.73L402.5 1128.73M396.2 1103.05L402.5 1103.05M396.2 1077.36L402.5 1077.36M396.2 1051.68L402.5 1051.68M396.2 1026L402.5 1026M398.9 1167.26L402.5 1167.26M398.9 1141.57L402.5 1141.57M398.9 1115.89L402.5 1115.89M398.9 1090.21L402.5 1090.21M398.9 1064.52L402.5 1064.52M398.9 1038.84L402.5 1038.84M402.5 1186.3L402.5 1192.3M414.58 1186.3L414.58 1190.1M421.64 1186.3L421.64 1190.1M426.65 1186.3L426.65 1190.1M430.54 1186.3L430.54 1190.1M433.72 1186.3L433.72 1190.1M436.41 1186.3L436.41 1190.1M438.73 1186.3L438.73 1190.1M440.78 1186.3L440.78 1190.1M442.62 1186.3L442.62 1192.3M454.7 1186.3L454.7 1190.1M461.76 1186.3L461.76 1190.1M466.77 1186.3L466.77 1190.1M470.66 1186.3L470.66 1190.1M473.84 1186.3L473.84 1190.1M476.53 1186.3L476.53 1190.1M478.85 1186.3L478.85 1190.1M480.9 1186.3L480.9 1190.1M482.74 1186.3L482.74 1192.3M494.82 1186.3L494.82 1190.1M501.88 1186.3L501.88 1190.1M506.89 1186.3L506.89 1190.1M510.78 1186.3L510.78 1190.1M513.96 1186.3L513.96 1190.1M516.65 1186.3L516.65 1190.1M518.97 1186.3L518.97 1190.1M521.02 1186.3L521.02 1190.1M522.86 1186.3L522.86 1192.3M534.94 1186.3L534.94 1190.1M542 1186.3L542 1190.1M547.01 1186.3L547.01 1190.1M550.9 1186.3L550.9 1190.1M554.08 1186.3L554.08 1190.1M556.77 1186.3L556.77 1190.1M559.09 1186.3L559.09 1190.1M561.14 1186.3L561.14 1190.1M562.98 1186.3L562.98 1192.3M575.06 1186.3L575.06 1190.1M582.12 1186.3L582.12 1190.1M587.13 1186.3L587.13 1190.1M591.02 1186.3L591.02 1190.1M594.2 1186.3L594.2 1190.1M596.89 1186.3L596.89 1190.1M599.21 1186.3L599.21 1190.1M601.26 1186.3L601.26 1190.1M603.1 1186.3L603.1 1192.3M615.18 1186.3L615.18 1190.1M622.24 1186.3L622.24 1190.1M627.25 1186.3L627.25 1190.1M631.14 1186.3L631.14 1190.1M634.32 1186.3L634.32 1190.1M637.01 1186.3L637.01 1190.1M639.33 1186.3L639.33 1190.1M641.38 1186.3L641.38 1190.1M643.22 1186.3L643.22 1192.3" fill="none" stroke="#262626" stroke-width="1.25"/>
<text x="393.6" y="1184.5" font-size="11.7" text-anchor="end">0</text>
<text x="393.6" y="1158.82" font-size="11.7" text-anchor="end">20</text>
<text x="393.6" y="1133.13" font-size="11.7" text-anchor="end">40</text>
<text x="393.6" y="1107.45" font-size="11.7" text-anchor="end">60</text>
<text x="393.6" y="1081.76" font-size="11.7" text-anchor="end">80</text>
<text x="393.6" y="1056.08" font-size="11.7" text-anchor="end">100</text>
<text x="393.6" y="1030.4" font-size="11.7" text-anchor="end">120</text>
<text x="402.5" y="1206.4" font-size="11.7" text-anchor="middle">0.01</text>
<text x="442.62" y="1206.4" font-size="11.7" text-anchor="middle">0.1</text>
<text x="482.74" y="1206.4" font-size="11.7" text-anchor="middle">1</text>
<text x="522.86" y="1206.4" font-size="11.7" text-anchor="middle">10</text>
<text x="562.98" y="1206.4" font-size="11.7" text-anchor="middle">100</text>
<text x="603.1" y="1206.4" font-size="11.7" text-anchor="middle">1000</text>
<text x="643.22" y="1206.4" font-size="11.7" text-anchor="middle">10000</text>
<text x="523.4" y="1225.8" font-size="13" text-anchor="middle">Concentration (nM)</text>
<text transform="translate(365.5 1106.8) rotate(-90)" font-size="13" text-anchor="middle">Viability%</text>
<line x1="402.5" y1="1115.89" x2="643.22" y2="1115.89" stroke="#222" stroke-width="1" stroke-dasharray="1.2 1.4"/>
<line x1="595.18" y1="1026" x2="595.18" y2="1186.3" stroke="#FDE4E7" stroke-width="1.8"/>
<line x1="595.18" y1="1026" x2="595.18" y2="1186.3" stroke="#F59AA3" stroke-width="1.7" stroke-dasharray="1.3 1.33"/>
<line x1="613.99" y1="1026" x2="613.99" y2="1186.3" stroke="#DDF2FB" stroke-width="1.8"/>
<line x1="613.99" y1="1026" x2="613.99" y2="1186.3" stroke="#86D0F0" stroke-width="1.7" stroke-dasharray="1.3 1.33"/>
<path d="M402.5 1051.33L403.5 1051.33L404.51 1051.33L405.51 1051.33L406.51 1051.33L407.51 1051.34L408.52 1051.34L409.52 1051.34L410.52 1051.34L411.53 1051.34L412.53 1051.35L413.53 1051.35L414.54 1051.35L415.54 1051.36L416.54 1051.36L417.55 1051.36L418.55 1051.37L419.55 1051.37L420.55 1051.37L421.56 1051.38L422.56 1051.38L423.56 1051.39L424.57 1051.39L425.57 1051.39L426.57 1051.4L427.57 1051.41L428.58 1051.41L429.58 1051.42L430.58 1051.42L431.59 1051.43L432.59 1051.44L433.59 1051.44L434.6 1051.45L435.6 1051.46L436.6 1051.47L437.61 1051.48L438.61 1051.49L439.61 1051.5L440.61 1051.51L441.62 1051.52L442.62 1051.53L443.62 1051.54L444.63 1051.56L445.63 1051.57L446.63 1051.58L447.63 1051.6L448.64 1051.61L449.64 1051.63L450.64 1051.65L451.65 1051.67L452.65 1051.69L453.65 1051.71L454.66 1051.73L455.66 1051.75L456.66 1051.77L457.67 1051.8L458.67 1051.82L459.67 1051.85L460.67 1051.88L461.68 1051.91L462.68 1051.94L463.68 1051.98L464.69 1052.01L465.69 1052.05L466.69 1052.09L467.69 1052.13L468.7 1052.17L469.7 1052.21L470.7 1052.26L471.71 1052.31L472.71 1052.36L473.71 1052.42L474.72 1052.48L475.72 1052.54L476.72 1052.6L477.73 1052.67L478.73 1052.74L479.73 1052.81L480.73 1052.89L481.74 1052.97L482.74 1053.05L483.74 1053.14L484.75 1053.24L485.75 1053.34L486.75 1053.44L487.75 1053.55L488.76 1053.66L489.76 1053.79L490.76 1053.91L491.77 1054.04L492.77 1054.18L493.77 1054.33L494.78 1054.48L495.78 1054.64L496.78 1054.81L497.78 1054.98L498.79 1055.17L499.79 1055.36L500.79 1055.57L501.8 1055.78L502.8 1056L503.8 1056.23L504.81 1056.48L505.81 1056.73L506.81 1057L507.81 1057.28L508.82 1057.57L509.82 1057.88L510.82 1058.2L511.83 1058.53L512.83 1058.88L513.83 1059.25L514.84 1059.63L515.84 1060.03L516.84 1060.44L517.85 1060.87L518.85 1061.32L519.85 1061.8L520.85 1062.29L521.86 1062.8L522.86 1063.33L523.86 1063.88L524.87 1064.45L525.87 1065.05L526.87 1065.67L527.88 1066.31L528.88 1066.98L529.88 1067.67L530.88 1068.39L531.89 1069.13L532.89 1069.9L533.89 1070.7L534.9 1071.52L535.9 1072.37L536.9 1073.24L537.9 1074.14L538.91 1075.07L539.91 1076.03L540.91 1077.01L541.92 1078.02L542.92 1079.06L543.92 1080.12L544.93 1081.21L545.93 1082.33L546.93 1083.46L547.93 1084.63L548.94 1085.81L549.94 1087.02L550.94 1088.25L551.95 1089.51L552.95 1090.78L553.95 1092.07L554.96 1093.37L555.96 1094.7L556.96 1096.03L557.97 1097.38L558.97 1098.74L559.97 1100.11L560.97 1101.49L561.98 1102.88L562.98 1104.27L563.98 1105.66L564.99 1107.05L565.99 1108.44L566.99 1109.83L568 1111.21L569 1112.59L570 1113.96L571 1115.33L572.01 1116.68L573.01 1118.01L574.01 1119.34L575.02 1120.65L576.02 1121.94L577.02 1123.21L578.02 1124.46L579.03 1125.69L580.03 1126.91L581.03 1128.09L582.04 1129.26L583.04 1130.4L584.04 1131.52L585.05 1132.61L586.05 1133.67L587.05 1134.71L588.05 1135.72L589.06 1136.71L590.06 1137.66L591.06 1138.6L592.07 1139.5L593.07 1140.38L594.07 1141.23L595.08 1142.05L596.08 1142.85L597.08 1143.62L598.09 1144.36L599.09 1145.08L600.09 1145.78L601.09 1146.44L602.1 1147.09L603.1 1147.71L604.1 1148.31L605.11 1148.89L606.11 1149.44L607.11 1149.97L608.12 1150.49L609.12 1150.98L610.12 1151.45L611.12 1151.9L612.13 1152.34L613.13 1152.75L614.13 1153.15L615.14 1153.53L616.14 1153.9L617.14 1154.25L618.14 1154.58L619.15 1154.91L620.15 1155.21L621.15 1155.51L622.16 1155.79L623.16 1156.06L624.16 1156.31L625.17 1156.56L626.17 1156.79L627.17 1157.01L628.17 1157.23L629.18 1157.43L630.18 1157.62L631.18 1157.81L632.19 1157.99L633.19 1158.15L634.19 1158.31L635.2 1158.47L636.2 1158.61L637.2 1158.75L638.2 1158.89L639.21 1159.01L640.21 1159.13L641.21 1159.25L642.22 1159.36L643.22 1159.46" fill="none" stroke="#4A8BD0" stroke-width="1.15"/>
<path d="M402.5 1051.67L403.5 1051.67L404.51 1051.67L405.51 1051.67L406.51 1051.67L407.51 1051.67L408.52 1051.67L409.52 1051.67L410.52 1051.67L411.53 1051.67L412.53 1051.67L413.53 1051.67L414.54 1051.67L415.54 1051.67L416.54 1051.68L417.55 1051.68L418.55 1051.68L419.55 1051.68L420.55 1051.68L421.56 1051.68L422.56 1051.68L423.56 1051.68L424.57 1051.68L425.57 1051.68L426.57 1051.68L427.57 1051.69L428.58 1051.69L429.58 1051.69L430.58 1051.69L431.59 1051.69L432.59 1051.69L433.59 1051.69L434.6 1051.69L435.6 1051.7L436.6 1051.7L437.61 1051.7L438.61 1051.7L439.61 1051.7L440.61 1051.7L441.62 1051.71L442.62 1051.71L443.62 1051.71L444.63 1051.71L445.63 1051.71L446.63 1051.72L447.63 1051.72L448.64 1051.72L449.64 1051.72L450.64 1051.73L451.65 1051.73L452.65 1051.73L453.65 1051.73L454.66 1051.74L455.66 1051.74L456.66 1051.74L457.67 1051.75L458.67 1051.75L459.67 1051.75L460.67 1051.76L461.68 1051.76L462.68 1051.76L463.68 1051.77L464.69 1051.77L465.69 1051.78L466.69 1051.78L467.69 1051.79L468.7 1051.79L469.7 1051.8L470.7 1051.8L471.71 1051.81L472.71 1051.81L473.71 1051.82L474.72 1051.82L475.72 1051.83L476.72 1051.84L477.73 1051.84L478.73 1051.85L479.73 1051.86L480.73 1051.87L481.74 1051.87L482.74 1051.88L483.74 1051.89L484.75 1051.9L485.75 1051.91L486.75 1051.92L487.75 1051.93L488.76 1051.94L489.76 1051.95L490.76 1051.96L491.77 1051.97L492.77 1051.98L493.77 1051.99L494.78 1052.01L495.78 1052.02L496.78 1052.03L497.78 1052.05L498.79 1052.06L499.79 1052.08L500.79 1052.09L501.8 1052.11L502.8 1052.12L503.8 1052.14L504.81 1052.16L505.81 1052.18L506.81 1052.2L507.81 1052.22L508.82 1052.24L509.82 1052.26L510.82 1052.28L511.83 1052.31L512.83 1052.33L513.83 1052.35L514.84 1052.38L515.84 1052.41L516.84 1052.43L517.85 1052.46L518.85 1052.49L519.85 1052.52L520.85 1052.56L521.86 1052.59L522.86 1052.62L523.86 1052.66L524.87 1052.7L525.87 1052.73L526.87 1052.77L527.88 1052.81L528.88 1052.86L529.88 1052.9L530.88 1052.95L531.89 1052.99L532.89 1053.04L533.89 1053.09L534.9 1053.15L535.9 1053.2L536.9 1053.26L537.9 1053.31L538.91 1053.38L539.91 1053.44L540.91 1053.5L541.92 1053.57L542.92 1053.64L543.92 1053.71L544.93 1053.79L545.93 1053.86L546.93 1053.94L547.93 1054.03L548.94 1054.11L549.94 1054.2L550.94 1054.29L551.95 1054.39L552.95 1054.48L553.95 1054.59L554.96 1054.69L555.96 1054.8L556.96 1054.91L557.97 1055.03L558.97 1055.15L559.97 1055.27L560.97 1055.4L561.98 1055.54L562.98 1055.67L563.98 1055.82L564.99 1055.96L565.99 1056.12L566.99 1056.27L568 1056.44L569 1056.6L570 1056.78L571 1056.96L572.01 1057.14L573.01 1057.33L574.01 1057.53L575.02 1057.74L576.02 1057.95L577.02 1058.16L578.02 1058.39L579.03 1058.62L580.03 1058.86L581.03 1059.11L582.04 1059.36L583.04 1059.62L584.04 1059.89L585.05 1060.17L586.05 1060.46L587.05 1060.75L588.05 1061.05L589.06 1061.37L590.06 1061.69L591.06 1062.02L592.07 1062.36L593.07 1062.71L594.07 1063.08L595.08 1063.45L596.08 1063.83L597.08 1064.22L598.09 1064.62L599.09 1065.04L600.09 1065.46L601.09 1065.9L602.1 1066.35L603.1 1066.8L604.1 1067.27L605.11 1067.76L606.11 1068.25L607.11 1068.76L608.12 1069.27L609.12 1069.8L610.12 1070.35L611.12 1070.9L612.13 1071.47L613.13 1072.04L614.13 1072.64L615.14 1073.24L616.14 1073.85L617.14 1074.48L618.14 1075.12L619.15 1075.77L620.15 1076.44L621.15 1077.11L622.16 1077.8L623.16 1078.5L624.16 1079.21L625.17 1079.93L626.17 1080.66L627.17 1081.4L628.17 1082.16L629.18 1082.92L630.18 1083.69L631.18 1084.47L632.19 1085.26L633.19 1086.06L634.19 1086.87L635.2 1087.69L636.2 1088.51L637.2 1089.34L638.2 1090.18L639.21 1091.03L640.21 1091.88L641.21 1092.73L642.22 1093.59L643.22 1094.45" fill="none" stroke="#7B5BA6" stroke-width="1.15"/>
<path d="M402.5 1051.69L403.5 1051.69L404.51 1051.69L405.51 1051.7L406.51 1051.7L407.51 1051.7L408.52 1051.7L409.52 1051.7L410.52 1051.7L411.53 1051.7L412.53 1051.7L413.53 1051.7L414.54 1051.7L415.54 1051.7L416.54 1051.71L417.55 1051.71L418.55 1051.71L419.55 1051.71L420.55 1051.71L421.56 1051.71L422.56 1051.71L423.56 1051.72L424.57 1051.72L425.57 1051.72L426.57 1051.72L427.57 1051.72L428.58 1051.72L429.58 1051.73L430.58 1051.73L431.59 1051.73L432.59 1051.73L433.59 1051.74L434.6 1051.74L435.6 1051.74L436.6 1051.74L437.61 1051.75L438.61 1051.75L439.61 1051.75L440.61 1051.76L441.62 1051.76L442.62 1051.76L443.62 1051.77L444.63 1051.77L445.63 1051.77L446.63 1051.78L447.63 1051.78L448.64 1051.79L449.64 1051.79L450.64 1051.8L451.65 1051.8L452.65 1051.81L453.65 1051.82L454.66 1051.82L455.66 1051.83L456.66 1051.83L457.67 1051.84L458.67 1051.85L459.67 1051.86L460.67 1051.87L461.68 1051.87L462.68 1051.88L463.68 1051.89L464.69 1051.9L465.69 1051.91L466.69 1051.92L467.69 1051.93L468.7 1051.95L469.7 1051.96L470.7 1051.97L471.71 1051.98L472.71 1052L473.71 1052.01L474.72 1052.03L475.72 1052.04L476.72 1052.06L477.73 1052.08L478.73 1052.09L479.73 1052.11L480.73 1052.13L481.74 1052.15L482.74 1052.18L483.74 1052.2L484.75 1052.22L485.75 1052.25L486.75 1052.27L487.75 1052.3L488.76 1052.33L489.76 1052.36L490.76 1052.39L491.77 1052.42L492.77 1052.45L493.77 1052.49L494.78 1052.52L495.78 1052.56L496.78 1052.6L497.78 1052.64L498.79 1052.69L499.79 1052.73L500.79 1052.78L501.8 1052.83L502.8 1052.88L503.8 1052.94L504.81 1052.99L505.81 1053.05L506.81 1053.11L507.81 1053.18L508.82 1053.25L509.82 1053.32L510.82 1053.39L511.83 1053.46L512.83 1053.54L513.83 1053.63L514.84 1053.71L515.84 1053.8L516.84 1053.9L517.85 1054L518.85 1054.1L519.85 1054.2L520.85 1054.31L521.86 1054.43L522.86 1054.55L523.86 1054.68L524.87 1054.81L525.87 1054.94L526.87 1055.08L527.88 1055.23L528.88 1055.38L529.88 1055.54L530.88 1055.71L531.89 1055.88L532.89 1056.06L533.89 1056.24L534.9 1056.44L535.9 1056.64L536.9 1056.84L537.9 1057.06L538.91 1057.28L539.91 1057.51L540.91 1057.76L541.92 1058L542.92 1058.26L543.92 1058.53L544.93 1058.81L545.93 1059.09L546.93 1059.39L547.93 1059.69L548.94 1060.01L549.94 1060.34L550.94 1060.67L551.95 1061.02L552.95 1061.38L553.95 1061.75L554.96 1062.13L555.96 1062.52L556.96 1062.92L557.97 1063.33L558.97 1063.76L559.97 1064.19L560.97 1064.64L561.98 1065.1L562.98 1065.57L563.98 1066.05L564.99 1066.54L565.99 1067.05L566.99 1067.56L568 1068.09L569 1068.62L570 1069.17L571 1069.72L572.01 1070.29L573.01 1070.86L574.01 1071.44L575.02 1072.04L576.02 1072.64L577.02 1073.24L578.02 1073.86L579.03 1074.48L580.03 1075.11L581.03 1075.74L582.04 1076.38L583.04 1077.02L584.04 1077.66L585.05 1078.31L586.05 1078.96L587.05 1079.62L588.05 1080.27L589.06 1080.93L590.06 1081.58L591.06 1082.24L592.07 1082.89L593.07 1083.54L594.07 1084.19L595.08 1084.83L596.08 1085.48L597.08 1086.11L598.09 1086.74L599.09 1087.37L600.09 1087.99L601.09 1088.6L602.1 1089.21L603.1 1089.8L604.1 1090.39L605.11 1090.97L606.11 1091.54L607.11 1092.11L608.12 1092.66L609.12 1093.2L610.12 1093.73L611.12 1094.25L612.13 1094.77L613.13 1095.27L614.13 1095.76L615.14 1096.23L616.14 1096.7L617.14 1097.16L618.14 1097.6L619.15 1098.03L620.15 1098.45L621.15 1098.86L622.16 1099.26L623.16 1099.65L624.16 1100.03L625.17 1100.39L626.17 1100.75L627.17 1101.09L628.17 1101.43L629.18 1101.75L630.18 1102.06L631.18 1102.37L632.19 1102.66L633.19 1102.94L634.19 1103.22L635.2 1103.48L636.2 1103.74L637.2 1103.98L638.2 1104.22L639.21 1104.45L640.21 1104.67L641.21 1104.88L642.22 1105.09L643.22 1105.29" fill="none" stroke="#F7941D" stroke-width="1.15"/>
<path d="M402.5 1052.53L403.5 1052.53L404.51 1052.54L405.51 1052.55L406.51 1052.55L407.51 1052.56L408.52 1052.57L409.52 1052.57L410.52 1052.58L411.53 1052.59L412.53 1052.6L413.53 1052.61L414.54 1052.61L415.54 1052.62L416.54 1052.63L417.55 1052.64L418.55 1052.65L419.55 1052.66L420.55 1052.67L421.56 1052.68L422.56 1052.7L423.56 1052.71L424.57 1052.72L425.57 1052.73L426.57 1052.75L427.57 1052.76L428.58 1052.77L429.58 1052.79L430.58 1052.8L431.59 1052.82L432.59 1052.84L433.59 1052.85L434.6 1052.87L435.6 1052.89L436.6 1052.91L437.61 1052.93L438.61 1052.95L439.61 1052.97L440.61 1052.99L441.62 1053.02L442.62 1053.04L443.62 1053.07L444.63 1053.09L445.63 1053.12L446.63 1053.15L447.63 1053.17L448.64 1053.2L449.64 1053.23L450.64 1053.27L451.65 1053.3L452.65 1053.33L453.65 1053.37L454.66 1053.41L455.66 1053.44L456.66 1053.48L457.67 1053.53L458.67 1053.57L459.67 1053.61L460.67 1053.66L461.68 1053.7L462.68 1053.75L463.68 1053.8L464.69 1053.86L465.69 1053.91L466.69 1053.97L467.69 1054.03L468.7 1054.09L469.7 1054.15L470.7 1054.21L471.71 1054.28L472.71 1054.35L473.71 1054.42L474.72 1054.5L475.72 1054.58L476.72 1054.66L477.73 1054.74L478.73 1054.83L479.73 1054.91L480.73 1055.01L481.74 1055.1L482.74 1055.2L483.74 1055.3L484.75 1055.41L485.75 1055.52L486.75 1055.63L487.75 1055.75L488.76 1055.87L489.76 1055.99L490.76 1056.12L491.77 1056.26L492.77 1056.4L493.77 1056.54L494.78 1056.69L495.78 1056.84L496.78 1057L497.78 1057.16L498.79 1057.33L499.79 1057.5L500.79 1057.68L501.8 1057.87L502.8 1058.06L503.8 1058.26L504.81 1058.46L505.81 1058.68L506.81 1058.89L507.81 1059.12L508.82 1059.35L509.82 1059.59L510.82 1059.83L511.83 1060.09L512.83 1060.35L513.83 1060.62L514.84 1060.89L515.84 1061.18L516.84 1061.47L517.85 1061.77L518.85 1062.09L519.85 1062.41L520.85 1062.73L521.86 1063.07L522.86 1063.42L523.86 1063.78L524.87 1064.14L525.87 1064.52L526.87 1064.91L527.88 1065.3L528.88 1065.71L529.88 1066.12L530.88 1066.55L531.89 1066.99L532.89 1067.44L533.89 1067.9L534.9 1068.37L535.9 1068.85L536.9 1069.34L537.9 1069.84L538.91 1070.35L539.91 1070.87L540.91 1071.41L541.92 1071.95L542.92 1072.51L543.92 1073.07L544.93 1073.65L545.93 1074.24L546.93 1074.83L547.93 1075.44L548.94 1076.06L549.94 1076.68L550.94 1077.32L551.95 1077.97L552.95 1078.62L553.95 1079.28L554.96 1079.96L555.96 1080.64L556.96 1081.33L557.97 1082.02L558.97 1082.73L559.97 1083.44L560.97 1084.15L561.98 1084.88L562.98 1085.61L563.98 1086.34L564.99 1087.08L565.99 1087.82L566.99 1088.57L568 1089.32L569 1090.08L570 1090.83L571 1091.59L572.01 1092.35L573.01 1093.11L574.01 1093.88L575.02 1094.64L576.02 1095.4L577.02 1096.16L578.02 1096.92L579.03 1097.67L580.03 1098.43L581.03 1099.18L582.04 1099.92L583.04 1100.67L584.04 1101.4L585.05 1102.14L586.05 1102.87L587.05 1103.59L588.05 1104.3L589.06 1105.01L590.06 1105.71L591.06 1106.41L592.07 1107.1L593.07 1107.77L594.07 1108.44L595.08 1109.11L596.08 1109.76L597.08 1110.4L598.09 1111.04L599.09 1111.66L600.09 1112.28L601.09 1112.88L602.1 1113.48L603.1 1114.06L604.1 1114.63L605.11 1115.2L606.11 1115.75L607.11 1116.29L608.12 1116.82L609.12 1117.34L610.12 1117.85L611.12 1118.35L612.13 1118.84L613.13 1119.32L614.13 1119.78L615.14 1120.24L616.14 1120.69L617.14 1121.12L618.14 1121.55L619.15 1121.96L620.15 1122.36L621.15 1122.76L622.16 1123.14L623.16 1123.51L624.16 1123.88L625.17 1124.23L626.17 1124.58L627.17 1124.91L628.17 1125.24L629.18 1125.56L630.18 1125.87L631.18 1126.17L632.19 1126.46L633.19 1126.74L634.19 1127.02L635.2 1127.28L636.2 1127.54L637.2 1127.8L638.2 1128.04L639.21 1128.28L640.21 1128.51L641.21 1128.73L642.22 1128.94L643.22 1129.15" fill="none" stroke="#000000" stroke-width="1.15"/>
<path d="M442.62 1047.83L442.62 1052.96M439.12 1047.83L446.12 1047.83M439.12 1052.96L446.12 1052.96" fill="none" stroke="#4A8BD0" stroke-width="1.2"/>
<path d="M402.5 1053.43L406 1047.13L399 1047.13Z" fill="#4A8BD0"/>
<path d="M442.62 1054.07L446.12 1047.77L439.12 1047.77Z" fill="#4A8BD0"/>
<path d="M482.74 1055.35L486.24 1049.05L479.24 1049.05Z" fill="#4A8BD0"/>
<path d="M522.86 1065.63L526.36 1059.33L519.36 1059.33Z" fill="#4A8BD0"/>
<path d="M562.98 1109.42L566.48 1103.12L559.48 1103.12Z" fill="#4A8BD0"/>
<path d="M603.1 1149.23L606.6 1142.93L599.6 1142.93Z" fill="#4A8BD0"/>
<path d="M643.22 1164.51L646.72 1158.21L639.72 1158.21Z" fill="#4A8BD0"/>
<path d="M603.1 1062.34L603.1 1071.33M599.6 1062.34L606.6 1062.34M599.6 1071.33L606.6 1071.33M643.22 1084.17L643.22 1104.72M639.72 1084.17L646.72 1084.17M639.72 1104.72L646.72 1104.72" fill="none" stroke="#7B5BA6" stroke-width="1.2"/>
<path d="M402.5 1048L406 1054.3L399 1054.3Z" fill="#7B5BA6"/>
<path d="M442.62 1048L446.12 1054.3L439.12 1054.3Z" fill="#7B5BA6"/>
<path d="M482.74 1048L486.24 1054.3L479.24 1054.3Z" fill="#7B5BA6"/>
<path d="M522.86 1049.29L526.36 1055.59L519.36 1055.59Z" fill="#7B5BA6"/>
<path d="M562.98 1051.86L566.48 1058.16L559.48 1058.16Z" fill="#7B5BA6"/>
<path d="M603.1 1063.16L606.6 1069.46L599.6 1069.46Z" fill="#7B5BA6"/>
<path d="M643.22 1090.77L646.72 1097.07L639.72 1097.07Z" fill="#7B5BA6"/>
<path d="M562.98 1060.16L562.98 1070.43M559.48 1060.16L566.48 1060.16M559.48 1070.43L566.48 1070.43M603.1 1083.53L603.1 1096.37M599.6 1083.53L606.6 1083.53M599.6 1096.37L606.6 1096.37M643.22 1098.81L643.22 1111.65M639.72 1098.81L646.72 1098.81M639.72 1111.65L646.72 1111.65" fill="none" stroke="#F37421" stroke-width="1.2"/>
<rect x="399.2" y="1049.02" width="6.6" height="6.6" fill="#F37421"/>
<rect x="439.32" y="1050.31" width="6.6" height="6.6" fill="#F37421"/>
<rect x="479.44" y="1048.38" width="6.6" height="6.6" fill="#F37421"/>
<rect x="519.56" y="1051.72" width="6.6" height="6.6" fill="#F37421"/>
<rect x="559.68" y="1061.99" width="6.6" height="6.6" fill="#F37421"/>
<rect x="599.8" y="1086.65" width="6.6" height="6.6" fill="#F37421"/>
<rect x="639.92" y="1101.93" width="6.6" height="6.6" fill="#F37421"/>
<path d="M522.86 1060.67L522.86 1065.81M519.36 1060.67L526.36 1060.67M519.36 1065.81L526.36 1065.81M562.98 1081.35L562.98 1090.33M559.48 1081.35L566.48 1081.35M559.48 1090.33L566.48 1090.33M603.1 1108.7L603.1 1118.97M599.6 1108.7L606.6 1108.7M599.6 1118.97L606.6 1118.97M643.22 1124.75L643.22 1133.74M639.72 1124.75L646.72 1124.75M639.72 1133.74L646.72 1133.74" fill="none" stroke="#000000" stroke-width="1.2"/>
<circle cx="402.5" cy="1052.58" r="3.25" fill="#000000"/>
<circle cx="442.62" cy="1053.22" r="3.25" fill="#000000"/>
<circle cx="482.74" cy="1055.02" r="3.25" fill="#000000"/>
<circle cx="522.86" cy="1063.24" r="3.25" fill="#000000"/>
<circle cx="562.98" cy="1085.84" r="3.25" fill="#000000"/>
<circle cx="603.1" cy="1113.84" r="3.25" fill="#000000"/>
<circle cx="643.22" cy="1129.25" r="3.25" fill="#000000"/>
<line x1="20" y1="1268.9" x2="49.7" y2="1268.9" stroke="#000000" stroke-width="1.8"/>
<circle cx="34.7" cy="1268.9" r="5.2" fill="#000"/>
<text x="65.4" y="1275.2" font-size="16">PFTRE +IL-3</text>
<line x1="197.2" y1="1268.9" x2="227" y2="1268.9" stroke="#F7941D" stroke-width="1.8"/>
<rect x="207" y="1263.8" width="10.2" height="10.2" fill="#F37421"/>
<text x="243.2" y="1275.2" font-size="16">NTRK2 +IL-3</text>
<line x1="355.8" y1="1268.9" x2="385.6" y2="1268.9" stroke="#7B5BA6" stroke-width="1.8"/>
<path d="M370.7 1262.6L376.1 1273.4L365.3 1273.4Z" fill="#7B5BA6"/>
<text x="401.8" y="1275.2" font-size="16">SPECC1L::NTRK2</text>
<line x1="557.4" y1="1268.9" x2="587.2" y2="1268.9" stroke="#4A8BD0" stroke-width="1.8"/>
<path d="M567 1263.7L577.6 1263.7L572.3 1274.3Z" fill="#4A8BD0"/>
<text x="603" y="1275.2" font-size="16">NTRK2 ITD</text>
<line x1="243" y1="1304.5" x2="287" y2="1304.5" stroke="#F0707C" stroke-width="1.4" stroke-dasharray="1.4 1.2"/>
<text x="302.3" y="1306.3" font-size="16">Cmax</text>
<line x1="374.7" y1="1301.7" x2="418.6" y2="1301.7" stroke="#35ADE4" stroke-width="1.4" stroke-dasharray="1.4 1.2"/>
<text x="434.2" y="1304.5" font-size="16">C<tspan font-size="12" dy="2.9">SS</tspan></text>
</svg>
</body></html>
